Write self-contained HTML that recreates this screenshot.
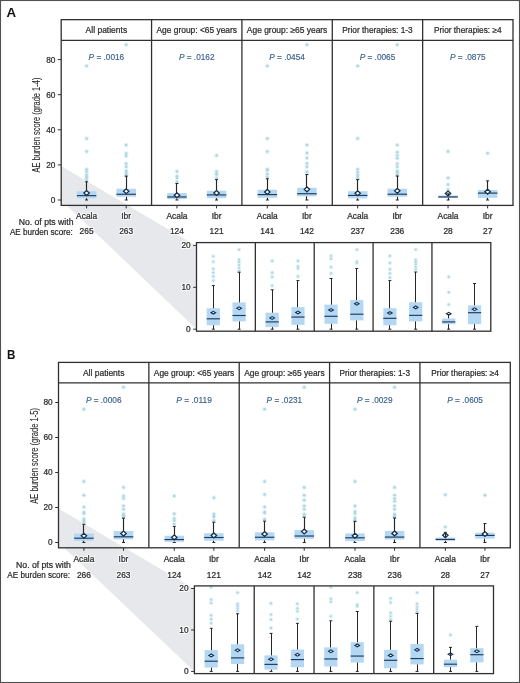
<!DOCTYPE html>
<html><head><meta charset="utf-8"><style>
html,body{margin:0;padding:0;background:#fff;width:520px;height:683px;overflow:hidden}
svg{display:block;will-change:transform}
text{font-family:"Liberation Sans", sans-serif}
</style></head><body>
<svg width="520" height="683" viewBox="0 0 520 683" font-family='"Liberation Sans", sans-serif'>
<rect width="520" height="683" fill="#fff"/>
<polygon points="61.2,165.9 196.5,245.9 196.5,329.2 66.85,205.4 61.2,205.4" fill="#e7e8ec"/><circle cx="86.6" cy="179.64" r="2.35" fill="#e0f4fa"/><circle cx="86.6" cy="177.89" r="2.35" fill="#e0f4fa"/><circle cx="86.6" cy="176.31" r="2.35" fill="#e0f4fa"/><circle cx="86.6" cy="174.73" r="2.35" fill="#e0f4fa"/><circle cx="86.6" cy="171.74" r="2.35" fill="#e0f4fa"/><circle cx="86.6" cy="169.46" r="2.35" fill="#e0f4fa"/><circle cx="86.6" cy="151.56" r="2.35" fill="#e0f4fa"/><circle cx="86.6" cy="138.57" r="2.35" fill="#e0f4fa"/><circle cx="86.6" cy="66.09" r="2.35" fill="#e0f4fa"/><circle cx="86.6" cy="179.64" r="1.25" fill="#b2d4dd"/><circle cx="86.6" cy="177.89" r="1.25" fill="#b2d4dd"/><circle cx="86.6" cy="176.31" r="1.25" fill="#b2d4dd"/><circle cx="86.6" cy="174.73" r="1.25" fill="#b2d4dd"/><circle cx="86.6" cy="171.74" r="1.25" fill="#b2d4dd"/><circle cx="86.6" cy="169.46" r="1.25" fill="#b2d4dd"/><circle cx="86.6" cy="151.56" r="1.25" fill="#b2d4dd"/><circle cx="86.6" cy="138.57" r="1.25" fill="#b2d4dd"/><circle cx="86.6" cy="66.09" r="1.25" fill="#b2d4dd"/><rect x="76.85" y="191.22" width="19.5" height="7.11" fill="#b4d7f3"/><line x1="76.85" y1="195.65" x2="96.35" y2="195.65" stroke="#1d3b5a" stroke-width="1.15"/><path d="M83.9 193.09L86.6 190.64L89.3 193.09L86.6 195.54Z" fill="#fff" stroke="#14304d" stroke-width="1.3"/><line x1="86.5" y1="181.75" x2="86.5" y2="191.22" stroke="#262626" stroke-width="1.15"/><line x1="86.5" y1="198.33" x2="86.5" y2="200" stroke="#262626" stroke-width="1.15"/><line x1="85.1" y1="181.75" x2="88.1" y2="181.75" stroke="#262626" stroke-width="1"/><line x1="85.1" y1="200" x2="88.1" y2="200" stroke="#262626" stroke-width="1"/><circle cx="126.2" cy="175.61" r="2.35" fill="#e0f4fa"/><circle cx="126.2" cy="174.38" r="2.35" fill="#e0f4fa"/><circle cx="126.2" cy="173.15" r="2.35" fill="#e0f4fa"/><circle cx="126.2" cy="171.92" r="2.35" fill="#e0f4fa"/><circle cx="126.2" cy="170.87" r="2.35" fill="#e0f4fa"/><circle cx="126.2" cy="166.66" r="2.35" fill="#e0f4fa"/><circle cx="126.2" cy="163.67" r="2.35" fill="#e0f4fa"/><circle cx="126.2" cy="155.95" r="2.35" fill="#e0f4fa"/><circle cx="126.2" cy="153.49" r="2.35" fill="#e0f4fa"/><circle cx="126.2" cy="145.07" r="2.35" fill="#e0f4fa"/><circle cx="126.2" cy="44.86" r="2.35" fill="#e0f4fa"/><circle cx="126.2" cy="175.61" r="1.25" fill="#b2d4dd"/><circle cx="126.2" cy="174.38" r="1.25" fill="#b2d4dd"/><circle cx="126.2" cy="173.15" r="1.25" fill="#b2d4dd"/><circle cx="126.2" cy="171.92" r="1.25" fill="#b2d4dd"/><circle cx="126.2" cy="170.87" r="1.25" fill="#b2d4dd"/><circle cx="126.2" cy="166.66" r="1.25" fill="#b2d4dd"/><circle cx="126.2" cy="163.67" r="1.25" fill="#b2d4dd"/><circle cx="126.2" cy="155.95" r="1.25" fill="#b2d4dd"/><circle cx="126.2" cy="153.49" r="1.25" fill="#b2d4dd"/><circle cx="126.2" cy="145.07" r="1.25" fill="#b2d4dd"/><circle cx="126.2" cy="44.86" r="1.25" fill="#b2d4dd"/><rect x="116.45" y="188.77" width="19.5" height="7.97" fill="#b4d7f3"/><line x1="116.45" y1="194.26" x2="135.95" y2="194.26" stroke="#1d3b5a" stroke-width="1.15"/><path d="M123.5 191.22L126.2 188.78L128.9 191.22L126.2 193.67Z" fill="#fff" stroke="#14304d" stroke-width="1.3"/><line x1="126.5" y1="176.13" x2="126.5" y2="188.77" stroke="#262626" stroke-width="1.15"/><line x1="126.5" y1="196.74" x2="126.5" y2="200" stroke="#262626" stroke-width="1.15"/><line x1="124.7" y1="176.13" x2="127.7" y2="176.13" stroke="#262626" stroke-width="1"/><line x1="124.7" y1="200" x2="127.7" y2="200" stroke="#262626" stroke-width="1"/><circle cx="176.96" cy="181.75" r="2.35" fill="#e0f4fa"/><circle cx="176.96" cy="178.06" r="2.35" fill="#e0f4fa"/><circle cx="176.96" cy="176.31" r="2.35" fill="#e0f4fa"/><circle cx="176.96" cy="171.39" r="2.35" fill="#e0f4fa"/><circle cx="176.96" cy="181.75" r="1.25" fill="#b2d4dd"/><circle cx="176.96" cy="178.06" r="1.25" fill="#b2d4dd"/><circle cx="176.96" cy="176.31" r="1.25" fill="#b2d4dd"/><circle cx="176.96" cy="171.39" r="1.25" fill="#b2d4dd"/><rect x="167.21" y="193.09" width="19.5" height="6.04" fill="#b4d7f3"/><line x1="167.21" y1="196.95" x2="186.71" y2="196.95" stroke="#1d3b5a" stroke-width="1.15"/><path d="M174.26 195.31L176.96 192.86L179.66 195.31L176.96 197.76Z" fill="#fff" stroke="#14304d" stroke-width="1.3"/><line x1="176.5" y1="183.5" x2="176.5" y2="193.09" stroke="#262626" stroke-width="1.15"/><line x1="176.5" y1="199.12" x2="176.5" y2="200" stroke="#262626" stroke-width="1.15"/><line x1="175.46" y1="183.5" x2="178.46" y2="183.5" stroke="#262626" stroke-width="1"/><line x1="175.46" y1="200" x2="178.46" y2="200" stroke="#262626" stroke-width="1"/><circle cx="216.56" cy="177.89" r="2.35" fill="#e0f4fa"/><circle cx="216.56" cy="174.55" r="2.35" fill="#e0f4fa"/><circle cx="216.56" cy="173.68" r="2.35" fill="#e0f4fa"/><circle cx="216.56" cy="171.39" r="2.35" fill="#e0f4fa"/><circle cx="216.56" cy="155.42" r="2.35" fill="#e0f4fa"/><circle cx="216.56" cy="177.89" r="1.25" fill="#b2d4dd"/><circle cx="216.56" cy="174.55" r="1.25" fill="#b2d4dd"/><circle cx="216.56" cy="173.68" r="1.25" fill="#b2d4dd"/><circle cx="216.56" cy="171.39" r="1.25" fill="#b2d4dd"/><circle cx="216.56" cy="155.42" r="1.25" fill="#b2d4dd"/><rect x="206.81" y="190.75" width="19.5" height="7.44" fill="#b4d7f3"/><line x1="206.81" y1="194.91" x2="226.31" y2="194.91" stroke="#1d3b5a" stroke-width="1.15"/><path d="M213.86 192.98L216.56 190.53L219.26 192.98L216.56 195.43Z" fill="#fff" stroke="#14304d" stroke-width="1.3"/><line x1="216.5" y1="179.64" x2="216.5" y2="190.75" stroke="#262626" stroke-width="1.15"/><line x1="216.5" y1="198.19" x2="216.5" y2="200" stroke="#262626" stroke-width="1.15"/><line x1="215.06" y1="179.64" x2="218.06" y2="179.64" stroke="#262626" stroke-width="1"/><line x1="215.06" y1="200" x2="218.06" y2="200" stroke="#262626" stroke-width="1"/><circle cx="267.32" cy="176.66" r="2.35" fill="#e0f4fa"/><circle cx="267.32" cy="174.03" r="2.35" fill="#e0f4fa"/><circle cx="267.32" cy="170.52" r="2.35" fill="#e0f4fa"/><circle cx="267.32" cy="169.29" r="2.35" fill="#e0f4fa"/><circle cx="267.32" cy="151.56" r="2.35" fill="#e0f4fa"/><circle cx="267.32" cy="138.57" r="2.35" fill="#e0f4fa"/><circle cx="267.32" cy="66.09" r="2.35" fill="#e0f4fa"/><circle cx="267.32" cy="176.66" r="1.25" fill="#b2d4dd"/><circle cx="267.32" cy="174.03" r="1.25" fill="#b2d4dd"/><circle cx="267.32" cy="170.52" r="1.25" fill="#b2d4dd"/><circle cx="267.32" cy="169.29" r="1.25" fill="#b2d4dd"/><circle cx="267.32" cy="151.56" r="1.25" fill="#b2d4dd"/><circle cx="267.32" cy="138.57" r="1.25" fill="#b2d4dd"/><circle cx="267.32" cy="66.09" r="1.25" fill="#b2d4dd"/><rect x="257.57" y="189.73" width="19.5" height="8" fill="#b4d7f3"/><line x1="257.57" y1="194.59" x2="277.07" y2="194.59" stroke="#1d3b5a" stroke-width="1.15"/><path d="M264.62 191.93L267.32 189.48L270.02 191.93L267.32 194.38Z" fill="#fff" stroke="#14304d" stroke-width="1.3"/><line x1="267.5" y1="178.76" x2="267.5" y2="189.73" stroke="#262626" stroke-width="1.15"/><line x1="267.5" y1="197.74" x2="267.5" y2="200" stroke="#262626" stroke-width="1.15"/><line x1="265.82" y1="178.76" x2="268.82" y2="178.76" stroke="#262626" stroke-width="1"/><line x1="265.82" y1="200" x2="268.82" y2="200" stroke="#262626" stroke-width="1"/><circle cx="306.92" cy="172.27" r="2.35" fill="#e0f4fa"/><circle cx="306.92" cy="171.74" r="2.35" fill="#e0f4fa"/><circle cx="306.92" cy="166.66" r="2.35" fill="#e0f4fa"/><circle cx="306.92" cy="163.5" r="2.35" fill="#e0f4fa"/><circle cx="306.92" cy="157.88" r="2.35" fill="#e0f4fa"/><circle cx="306.92" cy="152.97" r="2.35" fill="#e0f4fa"/><circle cx="306.92" cy="145.07" r="2.35" fill="#e0f4fa"/><circle cx="306.92" cy="44.86" r="2.35" fill="#e0f4fa"/><circle cx="306.92" cy="172.27" r="1.25" fill="#b2d4dd"/><circle cx="306.92" cy="171.74" r="1.25" fill="#b2d4dd"/><circle cx="306.92" cy="166.66" r="1.25" fill="#b2d4dd"/><circle cx="306.92" cy="163.5" r="1.25" fill="#b2d4dd"/><circle cx="306.92" cy="157.88" r="1.25" fill="#b2d4dd"/><circle cx="306.92" cy="152.97" r="1.25" fill="#b2d4dd"/><circle cx="306.92" cy="145.07" r="1.25" fill="#b2d4dd"/><circle cx="306.92" cy="44.86" r="1.25" fill="#b2d4dd"/><rect x="297.17" y="187.8" width="19.5" height="8.51" fill="#b4d7f3"/><line x1="297.17" y1="193.72" x2="316.67" y2="193.72" stroke="#1d3b5a" stroke-width="1.15"/><path d="M304.22 189.36L306.92 186.91L309.62 189.36L306.92 191.81Z" fill="#fff" stroke="#14304d" stroke-width="1.3"/><line x1="306.5" y1="174.55" x2="306.5" y2="187.8" stroke="#262626" stroke-width="1.15"/><line x1="306.5" y1="196.31" x2="306.5" y2="200" stroke="#262626" stroke-width="1.15"/><line x1="305.42" y1="174.55" x2="308.42" y2="174.55" stroke="#262626" stroke-width="1"/><line x1="305.42" y1="200" x2="308.42" y2="200" stroke="#262626" stroke-width="1"/><circle cx="357.68" cy="178.41" r="2.35" fill="#e0f4fa"/><circle cx="357.68" cy="176.66" r="2.35" fill="#e0f4fa"/><circle cx="357.68" cy="174.9" r="2.35" fill="#e0f4fa"/><circle cx="357.68" cy="172.27" r="2.35" fill="#e0f4fa"/><circle cx="357.68" cy="169.29" r="2.35" fill="#e0f4fa"/><circle cx="357.68" cy="138.57" r="2.35" fill="#e0f4fa"/><circle cx="357.68" cy="66.09" r="2.35" fill="#e0f4fa"/><circle cx="357.68" cy="178.41" r="1.25" fill="#b2d4dd"/><circle cx="357.68" cy="176.66" r="1.25" fill="#b2d4dd"/><circle cx="357.68" cy="174.9" r="1.25" fill="#b2d4dd"/><circle cx="357.68" cy="172.27" r="1.25" fill="#b2d4dd"/><circle cx="357.68" cy="169.29" r="1.25" fill="#b2d4dd"/><circle cx="357.68" cy="138.57" r="1.25" fill="#b2d4dd"/><circle cx="357.68" cy="66.09" r="1.25" fill="#b2d4dd"/><rect x="347.93" y="191.22" width="19.5" height="7.11" fill="#b4d7f3"/><line x1="347.93" y1="195.44" x2="367.43" y2="195.44" stroke="#1d3b5a" stroke-width="1.15"/><path d="M354.98 193.24L357.68 190.79L360.38 193.24L357.68 195.69Z" fill="#fff" stroke="#14304d" stroke-width="1.3"/><line x1="357.5" y1="179.64" x2="357.5" y2="191.22" stroke="#262626" stroke-width="1.15"/><line x1="357.5" y1="198.33" x2="357.5" y2="200" stroke="#262626" stroke-width="1.15"/><line x1="356.18" y1="179.64" x2="359.18" y2="179.64" stroke="#262626" stroke-width="1"/><line x1="356.18" y1="200" x2="359.18" y2="200" stroke="#262626" stroke-width="1"/><circle cx="397.28" cy="174.9" r="2.35" fill="#e0f4fa"/><circle cx="397.28" cy="173.85" r="2.35" fill="#e0f4fa"/><circle cx="397.28" cy="172.8" r="2.35" fill="#e0f4fa"/><circle cx="397.28" cy="171.92" r="2.35" fill="#e0f4fa"/><circle cx="397.28" cy="171.04" r="2.35" fill="#e0f4fa"/><circle cx="397.28" cy="166.66" r="2.35" fill="#e0f4fa"/><circle cx="397.28" cy="163.67" r="2.35" fill="#e0f4fa"/><circle cx="397.28" cy="158.23" r="2.35" fill="#e0f4fa"/><circle cx="397.28" cy="155.42" r="2.35" fill="#e0f4fa"/><circle cx="397.28" cy="152.26" r="2.35" fill="#e0f4fa"/><circle cx="397.28" cy="145.07" r="2.35" fill="#e0f4fa"/><circle cx="397.28" cy="44.86" r="2.35" fill="#e0f4fa"/><circle cx="397.28" cy="174.9" r="1.25" fill="#b2d4dd"/><circle cx="397.28" cy="173.85" r="1.25" fill="#b2d4dd"/><circle cx="397.28" cy="172.8" r="1.25" fill="#b2d4dd"/><circle cx="397.28" cy="171.92" r="1.25" fill="#b2d4dd"/><circle cx="397.28" cy="171.04" r="1.25" fill="#b2d4dd"/><circle cx="397.28" cy="166.66" r="1.25" fill="#b2d4dd"/><circle cx="397.28" cy="163.67" r="1.25" fill="#b2d4dd"/><circle cx="397.28" cy="158.23" r="1.25" fill="#b2d4dd"/><circle cx="397.28" cy="155.42" r="1.25" fill="#b2d4dd"/><circle cx="397.28" cy="152.26" r="1.25" fill="#b2d4dd"/><circle cx="397.28" cy="145.07" r="1.25" fill="#b2d4dd"/><circle cx="397.28" cy="44.86" r="1.25" fill="#b2d4dd"/><rect x="387.53" y="188.7" width="19.5" height="8.04" fill="#b4d7f3"/><line x1="387.53" y1="194.21" x2="407.03" y2="194.21" stroke="#1d3b5a" stroke-width="1.15"/><path d="M394.58 190.87L397.28 188.42L399.98 190.87L397.28 193.32Z" fill="#fff" stroke="#14304d" stroke-width="1.3"/><line x1="397.5" y1="176.04" x2="397.5" y2="188.7" stroke="#262626" stroke-width="1.15"/><line x1="397.5" y1="196.74" x2="397.5" y2="200" stroke="#262626" stroke-width="1.15"/><line x1="395.78" y1="176.04" x2="398.78" y2="176.04" stroke="#262626" stroke-width="1"/><line x1="395.78" y1="200" x2="398.78" y2="200" stroke="#262626" stroke-width="1"/><circle cx="448.04" cy="189.65" r="2.35" fill="#e0f4fa"/><circle cx="448.04" cy="184.56" r="2.35" fill="#e0f4fa"/><circle cx="448.04" cy="178.06" r="2.35" fill="#e0f4fa"/><circle cx="448.04" cy="151.56" r="2.35" fill="#e0f4fa"/><circle cx="448.04" cy="189.65" r="1.25" fill="#b2d4dd"/><circle cx="448.04" cy="184.56" r="1.25" fill="#b2d4dd"/><circle cx="448.04" cy="178.06" r="1.25" fill="#b2d4dd"/><circle cx="448.04" cy="151.56" r="1.25" fill="#b2d4dd"/><rect x="438.29" y="195.47" width="19.5" height="2.42" fill="#b4d7f3"/><line x1="438.29" y1="196.95" x2="457.79" y2="196.95" stroke="#1d3b5a" stroke-width="1.15"/><path d="M445.34 193.54L448.04 191.09L450.74 193.54L448.04 195.99Z" fill="#fff" stroke="#14304d" stroke-width="1.3"/><line x1="448.5" y1="193.86" x2="448.5" y2="195.47" stroke="#262626" stroke-width="1.15"/><line x1="448.5" y1="197.89" x2="448.5" y2="200" stroke="#262626" stroke-width="1.15"/><line x1="446.54" y1="193.86" x2="449.54" y2="193.86" stroke="#262626" stroke-width="1"/><line x1="446.54" y1="200" x2="449.54" y2="200" stroke="#262626" stroke-width="1"/><circle cx="487.64" cy="153.32" r="2.35" fill="#e0f4fa"/><circle cx="487.64" cy="153.32" r="1.25" fill="#b2d4dd"/><rect x="477.89" y="190.03" width="19.5" height="7.86" fill="#b4d7f3"/><line x1="477.89" y1="193.09" x2="497.39" y2="193.09" stroke="#1d3b5a" stroke-width="1.15"/><path d="M484.94 191.66L487.64 189.21L490.34 191.66L487.64 194.11Z" fill="#fff" stroke="#14304d" stroke-width="1.3"/><line x1="487.5" y1="180.87" x2="487.5" y2="190.03" stroke="#262626" stroke-width="1.15"/><line x1="487.5" y1="197.89" x2="487.5" y2="200" stroke="#262626" stroke-width="1.15"/><line x1="486.14" y1="180.87" x2="489.14" y2="180.87" stroke="#262626" stroke-width="1"/><line x1="486.14" y1="200" x2="489.14" y2="200" stroke="#262626" stroke-width="1"/><rect x="196.5" y="242.6" width="294.3" height="88.6" fill="#fff"/><circle cx="213.3" cy="280.6" r="2.2" fill="#e0f4fa"/><circle cx="213.3" cy="276.41" r="2.2" fill="#e0f4fa"/><circle cx="213.3" cy="272.63" r="2.2" fill="#e0f4fa"/><circle cx="213.3" cy="268.86" r="2.2" fill="#e0f4fa"/><circle cx="213.3" cy="261.74" r="2.2" fill="#e0f4fa"/><circle cx="213.3" cy="256.29" r="2.2" fill="#e0f4fa"/><circle cx="213.3" cy="280.6" r="1.1" fill="#b2d4dd"/><circle cx="213.3" cy="276.41" r="1.1" fill="#b2d4dd"/><circle cx="213.3" cy="272.63" r="1.1" fill="#b2d4dd"/><circle cx="213.3" cy="268.86" r="1.1" fill="#b2d4dd"/><circle cx="213.3" cy="261.74" r="1.1" fill="#b2d4dd"/><circle cx="213.3" cy="256.29" r="1.1" fill="#b2d4dd"/><rect x="206.7" y="308.25" width="13.2" height="16.97" fill="#b4d7f3"/><line x1="206.7" y1="318.81" x2="219.9" y2="318.81" stroke="#1d3b5a" stroke-width="1.15"/><path d="M211 312.69L213.3 311.29L215.6 312.69L213.3 314.09Z" fill="#fff" stroke="#14304d" stroke-width="1.1"/><line x1="213.5" y1="285.62" x2="213.5" y2="308.25" stroke="#262626" stroke-width="1.0"/><line x1="213.5" y1="325.22" x2="213.5" y2="329.2" stroke="#262626" stroke-width="1.0"/><line x1="211.8" y1="285.62" x2="214.8" y2="285.62" stroke="#262626" stroke-width="1"/><line x1="211.8" y1="329.2" x2="214.8" y2="329.2" stroke="#262626" stroke-width="1"/><circle cx="239.1" cy="270.96" r="2.2" fill="#e0f4fa"/><circle cx="239.1" cy="268.03" r="2.2" fill="#e0f4fa"/><circle cx="239.1" cy="265.09" r="2.2" fill="#e0f4fa"/><circle cx="239.1" cy="262.16" r="2.2" fill="#e0f4fa"/><circle cx="239.1" cy="259.65" r="2.2" fill="#e0f4fa"/><circle cx="239.1" cy="249.59" r="2.2" fill="#e0f4fa"/><circle cx="239.1" cy="270.96" r="1.1" fill="#b2d4dd"/><circle cx="239.1" cy="268.03" r="1.1" fill="#b2d4dd"/><circle cx="239.1" cy="265.09" r="1.1" fill="#b2d4dd"/><circle cx="239.1" cy="262.16" r="1.1" fill="#b2d4dd"/><circle cx="239.1" cy="259.65" r="1.1" fill="#b2d4dd"/><circle cx="239.1" cy="249.59" r="1.1" fill="#b2d4dd"/><rect x="232.5" y="302.38" width="13.2" height="19.02" fill="#b4d7f3"/><line x1="232.5" y1="315.5" x2="245.7" y2="315.5" stroke="#1d3b5a" stroke-width="1.15"/><path d="M236.8 308.25L239.1 306.85L241.4 308.25L239.1 309.65Z" fill="#fff" stroke="#14304d" stroke-width="1.1"/><line x1="239.5" y1="272.22" x2="239.5" y2="302.38" stroke="#262626" stroke-width="1.0"/><line x1="239.5" y1="321.41" x2="239.5" y2="329.2" stroke="#262626" stroke-width="1.0"/><line x1="237.6" y1="272.22" x2="240.6" y2="272.22" stroke="#262626" stroke-width="1"/><line x1="237.6" y1="329.2" x2="240.6" y2="329.2" stroke="#262626" stroke-width="1"/><circle cx="272.16" cy="285.62" r="2.2" fill="#e0f4fa"/><circle cx="272.16" cy="276.82" r="2.2" fill="#e0f4fa"/><circle cx="272.16" cy="272.63" r="2.2" fill="#e0f4fa"/><circle cx="272.16" cy="260.9" r="2.2" fill="#e0f4fa"/><circle cx="272.16" cy="285.62" r="1.1" fill="#b2d4dd"/><circle cx="272.16" cy="276.82" r="1.1" fill="#b2d4dd"/><circle cx="272.16" cy="272.63" r="1.1" fill="#b2d4dd"/><circle cx="272.16" cy="260.9" r="1.1" fill="#b2d4dd"/><rect x="265.56" y="312.69" width="13.2" height="14.41" fill="#b4d7f3"/><line x1="265.56" y1="321.91" x2="278.76" y2="321.91" stroke="#1d3b5a" stroke-width="1.15"/><path d="M269.86 318.01L272.16 316.61L274.46 318.01L272.16 319.41Z" fill="#fff" stroke="#14304d" stroke-width="1.1"/><line x1="272.5" y1="289.81" x2="272.5" y2="312.69" stroke="#262626" stroke-width="1.0"/><line x1="272.5" y1="327.1" x2="272.5" y2="329.2" stroke="#262626" stroke-width="1.0"/><line x1="270.66" y1="289.81" x2="273.66" y2="289.81" stroke="#262626" stroke-width="1"/><line x1="270.66" y1="329.2" x2="273.66" y2="329.2" stroke="#262626" stroke-width="1"/><circle cx="297.96" cy="276.41" r="2.2" fill="#e0f4fa"/><circle cx="297.96" cy="268.44" r="2.2" fill="#e0f4fa"/><circle cx="297.96" cy="266.35" r="2.2" fill="#e0f4fa"/><circle cx="297.96" cy="260.9" r="2.2" fill="#e0f4fa"/><circle cx="297.96" cy="276.41" r="1.1" fill="#b2d4dd"/><circle cx="297.96" cy="268.44" r="1.1" fill="#b2d4dd"/><circle cx="297.96" cy="266.35" r="1.1" fill="#b2d4dd"/><circle cx="297.96" cy="260.9" r="1.1" fill="#b2d4dd"/><rect x="291.36" y="307.12" width="13.2" height="17.77" fill="#b4d7f3"/><line x1="291.36" y1="317.05" x2="304.56" y2="317.05" stroke="#1d3b5a" stroke-width="1.15"/><path d="M295.66 312.44L297.96 311.04L300.26 312.44L297.96 313.84Z" fill="#fff" stroke="#14304d" stroke-width="1.1"/><line x1="297.5" y1="280.6" x2="297.5" y2="307.12" stroke="#262626" stroke-width="1.0"/><line x1="297.5" y1="324.88" x2="297.5" y2="329.2" stroke="#262626" stroke-width="1.0"/><line x1="296.46" y1="280.6" x2="299.46" y2="280.6" stroke="#262626" stroke-width="1"/><line x1="296.46" y1="329.2" x2="299.46" y2="329.2" stroke="#262626" stroke-width="1"/><circle cx="331.02" cy="273.47" r="2.2" fill="#e0f4fa"/><circle cx="331.02" cy="267.19" r="2.2" fill="#e0f4fa"/><circle cx="331.02" cy="258.81" r="2.2" fill="#e0f4fa"/><circle cx="331.02" cy="255.88" r="2.2" fill="#e0f4fa"/><circle cx="331.02" cy="273.47" r="1.1" fill="#b2d4dd"/><circle cx="331.02" cy="267.19" r="1.1" fill="#b2d4dd"/><circle cx="331.02" cy="258.81" r="1.1" fill="#b2d4dd"/><circle cx="331.02" cy="255.88" r="1.1" fill="#b2d4dd"/><rect x="324.42" y="304.69" width="13.2" height="19.11" fill="#b4d7f3"/><line x1="324.42" y1="316.29" x2="337.62" y2="316.29" stroke="#1d3b5a" stroke-width="1.15"/><path d="M328.72 309.93L331.02 308.53L333.32 309.93L331.02 311.33Z" fill="#fff" stroke="#14304d" stroke-width="1.1"/><line x1="331.5" y1="278.5" x2="331.5" y2="304.69" stroke="#262626" stroke-width="1.0"/><line x1="331.5" y1="323.79" x2="331.5" y2="329.2" stroke="#262626" stroke-width="1.0"/><line x1="329.52" y1="278.5" x2="332.52" y2="278.5" stroke="#262626" stroke-width="1"/><line x1="329.52" y1="329.2" x2="332.52" y2="329.2" stroke="#262626" stroke-width="1"/><circle cx="356.82" cy="263" r="2.2" fill="#e0f4fa"/><circle cx="356.82" cy="261.74" r="2.2" fill="#e0f4fa"/><circle cx="356.82" cy="249.59" r="2.2" fill="#e0f4fa"/><circle cx="356.82" cy="263" r="1.1" fill="#b2d4dd"/><circle cx="356.82" cy="261.74" r="1.1" fill="#b2d4dd"/><circle cx="356.82" cy="249.59" r="1.1" fill="#b2d4dd"/><rect x="350.22" y="300.08" width="13.2" height="20.32" fill="#b4d7f3"/><line x1="350.22" y1="314.2" x2="363.42" y2="314.2" stroke="#1d3b5a" stroke-width="1.15"/><path d="M354.52 303.81L356.82 302.41L359.12 303.81L356.82 305.21Z" fill="#fff" stroke="#14304d" stroke-width="1.1"/><line x1="356.5" y1="268.44" x2="356.5" y2="300.08" stroke="#262626" stroke-width="1.0"/><line x1="356.5" y1="320.4" x2="356.5" y2="329.2" stroke="#262626" stroke-width="1.0"/><line x1="355.32" y1="268.44" x2="358.32" y2="268.44" stroke="#262626" stroke-width="1"/><line x1="355.32" y1="329.2" x2="358.32" y2="329.2" stroke="#262626" stroke-width="1"/><circle cx="389.88" cy="277.66" r="2.2" fill="#e0f4fa"/><circle cx="389.88" cy="273.47" r="2.2" fill="#e0f4fa"/><circle cx="389.88" cy="269.28" r="2.2" fill="#e0f4fa"/><circle cx="389.88" cy="263" r="2.2" fill="#e0f4fa"/><circle cx="389.88" cy="255.88" r="2.2" fill="#e0f4fa"/><circle cx="389.88" cy="277.66" r="1.1" fill="#b2d4dd"/><circle cx="389.88" cy="273.47" r="1.1" fill="#b2d4dd"/><circle cx="389.88" cy="269.28" r="1.1" fill="#b2d4dd"/><circle cx="389.88" cy="263" r="1.1" fill="#b2d4dd"/><circle cx="389.88" cy="255.88" r="1.1" fill="#b2d4dd"/><rect x="383.28" y="308.25" width="13.2" height="16.97" fill="#b4d7f3"/><line x1="383.28" y1="318.31" x2="396.48" y2="318.31" stroke="#1d3b5a" stroke-width="1.15"/><path d="M387.58 313.07L389.88 311.67L392.18 313.07L389.88 314.47Z" fill="#fff" stroke="#14304d" stroke-width="1.1"/><line x1="389.5" y1="280.6" x2="389.5" y2="308.25" stroke="#262626" stroke-width="1.0"/><line x1="389.5" y1="325.22" x2="389.5" y2="329.2" stroke="#262626" stroke-width="1.0"/><line x1="388.38" y1="280.6" x2="391.38" y2="280.6" stroke="#262626" stroke-width="1"/><line x1="388.38" y1="329.2" x2="391.38" y2="329.2" stroke="#262626" stroke-width="1"/><circle cx="415.68" cy="269.28" r="2.2" fill="#e0f4fa"/><circle cx="415.68" cy="266.77" r="2.2" fill="#e0f4fa"/><circle cx="415.68" cy="264.25" r="2.2" fill="#e0f4fa"/><circle cx="415.68" cy="262.16" r="2.2" fill="#e0f4fa"/><circle cx="415.68" cy="260.06" r="2.2" fill="#e0f4fa"/><circle cx="415.68" cy="249.59" r="2.2" fill="#e0f4fa"/><circle cx="415.68" cy="269.28" r="1.1" fill="#b2d4dd"/><circle cx="415.68" cy="266.77" r="1.1" fill="#b2d4dd"/><circle cx="415.68" cy="264.25" r="1.1" fill="#b2d4dd"/><circle cx="415.68" cy="262.16" r="1.1" fill="#b2d4dd"/><circle cx="415.68" cy="260.06" r="1.1" fill="#b2d4dd"/><circle cx="415.68" cy="249.59" r="1.1" fill="#b2d4dd"/><rect x="409.08" y="302.22" width="13.2" height="19.19" fill="#b4d7f3"/><line x1="409.08" y1="315.37" x2="422.28" y2="315.37" stroke="#1d3b5a" stroke-width="1.15"/><path d="M413.38 307.41L415.68 306.01L417.98 307.41L415.68 308.81Z" fill="#fff" stroke="#14304d" stroke-width="1.1"/><line x1="415.5" y1="272.01" x2="415.5" y2="302.22" stroke="#262626" stroke-width="1.0"/><line x1="415.5" y1="321.41" x2="415.5" y2="329.2" stroke="#262626" stroke-width="1.0"/><line x1="414.18" y1="272.01" x2="417.18" y2="272.01" stroke="#262626" stroke-width="1"/><line x1="414.18" y1="329.2" x2="417.18" y2="329.2" stroke="#262626" stroke-width="1"/><circle cx="448.74" cy="304.48" r="2.2" fill="#e0f4fa"/><circle cx="448.74" cy="292.33" r="2.2" fill="#e0f4fa"/><circle cx="448.74" cy="276.82" r="2.2" fill="#e0f4fa"/><circle cx="448.74" cy="304.48" r="1.1" fill="#b2d4dd"/><circle cx="448.74" cy="292.33" r="1.1" fill="#b2d4dd"/><circle cx="448.74" cy="276.82" r="1.1" fill="#b2d4dd"/><rect x="442.14" y="318.39" width="13.2" height="5.78" fill="#b4d7f3"/><line x1="442.14" y1="321.91" x2="455.34" y2="321.91" stroke="#1d3b5a" stroke-width="1.15"/><path d="M446.44 313.78L448.74 312.38L451.04 313.78L448.74 315.18Z" fill="#fff" stroke="#14304d" stroke-width="1.1"/><line x1="448.5" y1="314.53" x2="448.5" y2="318.39" stroke="#262626" stroke-width="1.0"/><line x1="448.5" y1="324.17" x2="448.5" y2="329.2" stroke="#262626" stroke-width="1.0"/><line x1="447.24" y1="314.53" x2="450.24" y2="314.53" stroke="#262626" stroke-width="1"/><line x1="447.24" y1="329.2" x2="450.24" y2="329.2" stroke="#262626" stroke-width="1"/><rect x="467.94" y="305.4" width="13.2" height="18.77" fill="#b4d7f3"/><line x1="467.94" y1="312.69" x2="481.14" y2="312.69" stroke="#1d3b5a" stroke-width="1.15"/><path d="M472.24 309.3L474.54 307.9L476.84 309.3L474.54 310.7Z" fill="#fff" stroke="#14304d" stroke-width="1.1"/><line x1="474.5" y1="283.53" x2="474.5" y2="305.4" stroke="#262626" stroke-width="1.0"/><line x1="474.5" y1="324.17" x2="474.5" y2="329.2" stroke="#262626" stroke-width="1.0"/><line x1="473.04" y1="283.53" x2="476.04" y2="283.53" stroke="#262626" stroke-width="1"/><line x1="473.04" y1="329.2" x2="476.04" y2="329.2" stroke="#262626" stroke-width="1"/><rect x="61.2" y="19.65" width="451.8" height="185.75" fill="none" stroke="#303030" stroke-width="1.3"/><line x1="61.2" y1="40.45" x2="513" y2="40.45" stroke="#303030" stroke-width="1.3"/><line x1="151.56" y1="19.65" x2="151.56" y2="205.4" stroke="#303030" stroke-width="1.3"/><line x1="241.92" y1="19.65" x2="241.92" y2="205.4" stroke="#303030" stroke-width="1.3"/><line x1="332.28" y1="19.65" x2="332.28" y2="205.4" stroke="#303030" stroke-width="1.3"/><line x1="422.64" y1="19.65" x2="422.64" y2="205.4" stroke="#303030" stroke-width="1.3"/><line x1="57.9" y1="200" x2="61.2" y2="200" stroke="#303030" stroke-width="1"/><text x="55.4" y="202.9" font-size="8.3" fill="#2a2a2a" stroke="#2a2a2a" stroke-width="0.22" text-anchor="end">0</text><line x1="57.9" y1="164.9" x2="61.2" y2="164.9" stroke="#303030" stroke-width="1"/><text x="55.4" y="167.8" font-size="8.3" fill="#2a2a2a" stroke="#2a2a2a" stroke-width="0.22" text-anchor="end">20</text><line x1="57.9" y1="129.8" x2="61.2" y2="129.8" stroke="#303030" stroke-width="1"/><text x="55.4" y="132.7" font-size="8.3" fill="#2a2a2a" stroke="#2a2a2a" stroke-width="0.22" text-anchor="end">40</text><line x1="57.9" y1="94.7" x2="61.2" y2="94.7" stroke="#303030" stroke-width="1"/><text x="55.4" y="97.6" font-size="8.3" fill="#2a2a2a" stroke="#2a2a2a" stroke-width="0.22" text-anchor="end">60</text><line x1="57.9" y1="59.6" x2="61.2" y2="59.6" stroke="#303030" stroke-width="1"/><text x="55.4" y="62.5" font-size="8.3" fill="#2a2a2a" stroke="#2a2a2a" stroke-width="0.22" text-anchor="end">80</text><line x1="86.6" y1="205.4" x2="86.6" y2="208.4" stroke="#303030" stroke-width="1"/><text x="86.6" y="218.5" font-size="8.4" fill="#fbfbfc" text-anchor="middle" stroke="#fbfbfc" stroke-width="2.2" stroke-linejoin="round" paint-order="stroke">Acala</text><text x="86.6" y="218.5" font-size="8.4" fill="#2a2a2a" stroke="#2a2a2a" stroke-width="0.22" text-anchor="middle">Acala</text><text x="86.6" y="234.2" font-size="8.4" fill="#fbfbfc" text-anchor="middle" stroke="#fbfbfc" stroke-width="2.2" stroke-linejoin="round" paint-order="stroke">265</text><text x="86.6" y="234.2" font-size="8.4" fill="#2a2a2a" stroke="#2a2a2a" stroke-width="0.22" text-anchor="middle">265</text><line x1="126.2" y1="205.4" x2="126.2" y2="208.4" stroke="#303030" stroke-width="1"/><text x="126.2" y="218.5" font-size="8.4" fill="#fbfbfc" text-anchor="middle" stroke="#fbfbfc" stroke-width="2.2" stroke-linejoin="round" paint-order="stroke">Ibr</text><text x="126.2" y="218.5" font-size="8.4" fill="#2a2a2a" stroke="#2a2a2a" stroke-width="0.22" text-anchor="middle">Ibr</text><text x="126.2" y="234.2" font-size="8.4" fill="#fbfbfc" text-anchor="middle" stroke="#fbfbfc" stroke-width="2.2" stroke-linejoin="round" paint-order="stroke">263</text><text x="126.2" y="234.2" font-size="8.4" fill="#2a2a2a" stroke="#2a2a2a" stroke-width="0.22" text-anchor="middle">263</text><text x="106.38" y="32.8" font-size="8.4" fill="#2a2a2a" stroke="#2a2a2a" stroke-width="0.22" text-anchor="middle" textLength="41.5" lengthAdjust="spacingAndGlyphs">All patients</text><text x="106.38" y="59.8" font-size="8.3" fill="#3b5f8c" stroke="#3b5f8c" stroke-width="0.15" text-anchor="middle" textLength="35.6" lengthAdjust="spacingAndGlyphs"><tspan font-style="italic">P</tspan> = .0016</text><line x1="176.96" y1="205.4" x2="176.96" y2="208.4" stroke="#303030" stroke-width="1"/><text x="176.96" y="218.5" font-size="8.4" fill="#fbfbfc" text-anchor="middle" stroke="#fbfbfc" stroke-width="2.2" stroke-linejoin="round" paint-order="stroke">Acala</text><text x="176.96" y="218.5" font-size="8.4" fill="#2a2a2a" stroke="#2a2a2a" stroke-width="0.22" text-anchor="middle">Acala</text><text x="176.96" y="234.2" font-size="8.4" fill="#fbfbfc" text-anchor="middle" stroke="#fbfbfc" stroke-width="2.2" stroke-linejoin="round" paint-order="stroke">124</text><text x="176.96" y="234.2" font-size="8.4" fill="#2a2a2a" stroke="#2a2a2a" stroke-width="0.22" text-anchor="middle">124</text><line x1="216.56" y1="205.4" x2="216.56" y2="208.4" stroke="#303030" stroke-width="1"/><text x="216.56" y="218.5" font-size="8.4" fill="#fbfbfc" text-anchor="middle" stroke="#fbfbfc" stroke-width="2.2" stroke-linejoin="round" paint-order="stroke">Ibr</text><text x="216.56" y="218.5" font-size="8.4" fill="#2a2a2a" stroke="#2a2a2a" stroke-width="0.22" text-anchor="middle">Ibr</text><text x="216.56" y="234.2" font-size="8.4" fill="#fbfbfc" text-anchor="middle" stroke="#fbfbfc" stroke-width="2.2" stroke-linejoin="round" paint-order="stroke">121</text><text x="216.56" y="234.2" font-size="8.4" fill="#2a2a2a" stroke="#2a2a2a" stroke-width="0.22" text-anchor="middle">121</text><text x="196.74" y="32.8" font-size="8.4" fill="#2a2a2a" stroke="#2a2a2a" stroke-width="0.22" text-anchor="middle" textLength="80.5" lengthAdjust="spacingAndGlyphs">Age group: <65 years</text><text x="196.74" y="59.8" font-size="8.3" fill="#3b5f8c" stroke="#3b5f8c" stroke-width="0.15" text-anchor="middle" textLength="35.6" lengthAdjust="spacingAndGlyphs"><tspan font-style="italic">P</tspan> = .0162</text><line x1="267.32" y1="205.4" x2="267.32" y2="208.4" stroke="#303030" stroke-width="1"/><text x="267.32" y="218.5" font-size="8.4" fill="#fbfbfc" text-anchor="middle" stroke="#fbfbfc" stroke-width="2.2" stroke-linejoin="round" paint-order="stroke">Acala</text><text x="267.32" y="218.5" font-size="8.4" fill="#2a2a2a" stroke="#2a2a2a" stroke-width="0.22" text-anchor="middle">Acala</text><text x="267.32" y="234.2" font-size="8.4" fill="#fbfbfc" text-anchor="middle" stroke="#fbfbfc" stroke-width="2.2" stroke-linejoin="round" paint-order="stroke">141</text><text x="267.32" y="234.2" font-size="8.4" fill="#2a2a2a" stroke="#2a2a2a" stroke-width="0.22" text-anchor="middle">141</text><line x1="306.92" y1="205.4" x2="306.92" y2="208.4" stroke="#303030" stroke-width="1"/><text x="306.92" y="218.5" font-size="8.4" fill="#fbfbfc" text-anchor="middle" stroke="#fbfbfc" stroke-width="2.2" stroke-linejoin="round" paint-order="stroke">Ibr</text><text x="306.92" y="218.5" font-size="8.4" fill="#2a2a2a" stroke="#2a2a2a" stroke-width="0.22" text-anchor="middle">Ibr</text><text x="306.92" y="234.2" font-size="8.4" fill="#fbfbfc" text-anchor="middle" stroke="#fbfbfc" stroke-width="2.2" stroke-linejoin="round" paint-order="stroke">142</text><text x="306.92" y="234.2" font-size="8.4" fill="#2a2a2a" stroke="#2a2a2a" stroke-width="0.22" text-anchor="middle">142</text><text x="287.1" y="32.8" font-size="8.4" fill="#2a2a2a" stroke="#2a2a2a" stroke-width="0.22" text-anchor="middle" textLength="80.5" lengthAdjust="spacingAndGlyphs">Age group: ≥65 years</text><text x="287.1" y="59.8" font-size="8.3" fill="#3b5f8c" stroke="#3b5f8c" stroke-width="0.15" text-anchor="middle" textLength="35.6" lengthAdjust="spacingAndGlyphs"><tspan font-style="italic">P</tspan> = .0454</text><line x1="357.68" y1="205.4" x2="357.68" y2="208.4" stroke="#303030" stroke-width="1"/><text x="357.68" y="218.5" font-size="8.4" fill="#fbfbfc" text-anchor="middle" stroke="#fbfbfc" stroke-width="2.2" stroke-linejoin="round" paint-order="stroke">Acala</text><text x="357.68" y="218.5" font-size="8.4" fill="#2a2a2a" stroke="#2a2a2a" stroke-width="0.22" text-anchor="middle">Acala</text><text x="357.68" y="234.2" font-size="8.4" fill="#fbfbfc" text-anchor="middle" stroke="#fbfbfc" stroke-width="2.2" stroke-linejoin="round" paint-order="stroke">237</text><text x="357.68" y="234.2" font-size="8.4" fill="#2a2a2a" stroke="#2a2a2a" stroke-width="0.22" text-anchor="middle">237</text><line x1="397.28" y1="205.4" x2="397.28" y2="208.4" stroke="#303030" stroke-width="1"/><text x="397.28" y="218.5" font-size="8.4" fill="#fbfbfc" text-anchor="middle" stroke="#fbfbfc" stroke-width="2.2" stroke-linejoin="round" paint-order="stroke">Ibr</text><text x="397.28" y="218.5" font-size="8.4" fill="#2a2a2a" stroke="#2a2a2a" stroke-width="0.22" text-anchor="middle">Ibr</text><text x="397.28" y="234.2" font-size="8.4" fill="#fbfbfc" text-anchor="middle" stroke="#fbfbfc" stroke-width="2.2" stroke-linejoin="round" paint-order="stroke">236</text><text x="397.28" y="234.2" font-size="8.4" fill="#2a2a2a" stroke="#2a2a2a" stroke-width="0.22" text-anchor="middle">236</text><text x="377.46" y="32.8" font-size="8.4" fill="#2a2a2a" stroke="#2a2a2a" stroke-width="0.22" text-anchor="middle" textLength="70.5" lengthAdjust="spacingAndGlyphs">Prior therapies: 1-3</text><text x="377.46" y="59.8" font-size="8.3" fill="#3b5f8c" stroke="#3b5f8c" stroke-width="0.15" text-anchor="middle" textLength="35.6" lengthAdjust="spacingAndGlyphs"><tspan font-style="italic">P</tspan> = .0065</text><line x1="448.04" y1="205.4" x2="448.04" y2="208.4" stroke="#303030" stroke-width="1"/><text x="448.04" y="218.5" font-size="8.4" fill="#fbfbfc" text-anchor="middle" stroke="#fbfbfc" stroke-width="2.2" stroke-linejoin="round" paint-order="stroke">Acala</text><text x="448.04" y="218.5" font-size="8.4" fill="#2a2a2a" stroke="#2a2a2a" stroke-width="0.22" text-anchor="middle">Acala</text><text x="448.04" y="234.2" font-size="8.4" fill="#fbfbfc" text-anchor="middle" stroke="#fbfbfc" stroke-width="2.2" stroke-linejoin="round" paint-order="stroke">28</text><text x="448.04" y="234.2" font-size="8.4" fill="#2a2a2a" stroke="#2a2a2a" stroke-width="0.22" text-anchor="middle">28</text><line x1="487.64" y1="205.4" x2="487.64" y2="208.4" stroke="#303030" stroke-width="1"/><text x="487.64" y="218.5" font-size="8.4" fill="#fbfbfc" text-anchor="middle" stroke="#fbfbfc" stroke-width="2.2" stroke-linejoin="round" paint-order="stroke">Ibr</text><text x="487.64" y="218.5" font-size="8.4" fill="#2a2a2a" stroke="#2a2a2a" stroke-width="0.22" text-anchor="middle">Ibr</text><text x="487.64" y="234.2" font-size="8.4" fill="#fbfbfc" text-anchor="middle" stroke="#fbfbfc" stroke-width="2.2" stroke-linejoin="round" paint-order="stroke">27</text><text x="487.64" y="234.2" font-size="8.4" fill="#2a2a2a" stroke="#2a2a2a" stroke-width="0.22" text-anchor="middle">27</text><text x="467.82" y="32.8" font-size="8.4" fill="#2a2a2a" stroke="#2a2a2a" stroke-width="0.22" text-anchor="middle" textLength="67.5" lengthAdjust="spacingAndGlyphs">Prior therapies: ≥4</text><text x="467.82" y="59.8" font-size="8.3" fill="#3b5f8c" stroke="#3b5f8c" stroke-width="0.15" text-anchor="middle" textLength="35.6" lengthAdjust="spacingAndGlyphs"><tspan font-style="italic">P</tspan> = .0875</text><text x="73.5" y="225.2" font-size="8.4" fill="#2a2a2a" stroke="#2a2a2a" stroke-width="0.22" text-anchor="end" textLength="54.8" lengthAdjust="spacingAndGlyphs">No. of pts with</text><text x="72.7" y="234.8" font-size="8.4" fill="#2a2a2a" stroke="#2a2a2a" stroke-width="0.22" text-anchor="end" textLength="62.8" lengthAdjust="spacingAndGlyphs">AE burden score:</text><text transform="translate(40.2,172.6) rotate(-90)" font-size="10" fill="#2a2a2a" stroke="#2a2a2a" stroke-width="0.1" textLength="95" lengthAdjust="spacingAndGlyphs">AE burden score (grade 1-4)</text><rect x="196.5" y="242.6" width="294.3" height="88.6" fill="none" stroke="#303030" stroke-width="1.3"/><line x1="255.36" y1="242.6" x2="255.36" y2="331.2" stroke="#303030" stroke-width="1.3"/><line x1="314.22" y1="242.6" x2="314.22" y2="331.2" stroke="#303030" stroke-width="1.3"/><line x1="373.08" y1="242.6" x2="373.08" y2="331.2" stroke="#303030" stroke-width="1.3"/><line x1="431.94" y1="242.6" x2="431.94" y2="331.2" stroke="#303030" stroke-width="1.3"/><line x1="193.2" y1="329.2" x2="196.5" y2="329.2" stroke="#303030" stroke-width="1"/><text x="190.7" y="332.1" font-size="8.3" fill="#fbfbfc" text-anchor="end" stroke="#fbfbfc" stroke-width="2.2" stroke-linejoin="round" paint-order="stroke">0</text><text x="190.7" y="332.1" font-size="8.3" fill="#2a2a2a" stroke="#2a2a2a" stroke-width="0.22" text-anchor="end">0</text><line x1="193.2" y1="287.3" x2="196.5" y2="287.3" stroke="#303030" stroke-width="1"/><text x="190.7" y="290.2" font-size="8.3" fill="#fbfbfc" text-anchor="end" stroke="#fbfbfc" stroke-width="2.2" stroke-linejoin="round" paint-order="stroke">10</text><text x="190.7" y="290.2" font-size="8.3" fill="#2a2a2a" stroke="#2a2a2a" stroke-width="0.22" text-anchor="end">10</text><line x1="193.2" y1="245.4" x2="196.5" y2="245.4" stroke="#303030" stroke-width="1"/><text x="190.7" y="248.3" font-size="8.3" fill="#fbfbfc" text-anchor="end" stroke="#fbfbfc" stroke-width="2.2" stroke-linejoin="round" paint-order="stroke">20</text><text x="190.7" y="248.3" font-size="8.3" fill="#2a2a2a" stroke="#2a2a2a" stroke-width="0.22" text-anchor="end">20</text><text x="6.4" y="16.5" font-size="12.4" font-weight="bold" fill="#111" textLength="9.6" lengthAdjust="spacingAndGlyphs">A</text>
<polygon points="58.5,508.5 194.4,589 194.4,671.4 64.09,547.8 58.5,547.8" fill="#e7e8ec"/><circle cx="83.9" cy="522.2" r="2.35" fill="#e0f4fa"/><circle cx="83.9" cy="520.45" r="2.35" fill="#e0f4fa"/><circle cx="83.9" cy="518.88" r="2.35" fill="#e0f4fa"/><circle cx="83.9" cy="513.62" r="2.35" fill="#e0f4fa"/><circle cx="83.9" cy="512.23" r="2.35" fill="#e0f4fa"/><circle cx="83.9" cy="506.98" r="2.35" fill="#e0f4fa"/><circle cx="83.9" cy="495.25" r="2.35" fill="#e0f4fa"/><circle cx="83.9" cy="481.43" r="2.35" fill="#e0f4fa"/><circle cx="83.9" cy="409.15" r="2.35" fill="#e0f4fa"/><circle cx="83.9" cy="522.2" r="1.25" fill="#b2d4dd"/><circle cx="83.9" cy="520.45" r="1.25" fill="#b2d4dd"/><circle cx="83.9" cy="518.88" r="1.25" fill="#b2d4dd"/><circle cx="83.9" cy="513.62" r="1.25" fill="#b2d4dd"/><circle cx="83.9" cy="512.23" r="1.25" fill="#b2d4dd"/><circle cx="83.9" cy="506.98" r="1.25" fill="#b2d4dd"/><circle cx="83.9" cy="495.25" r="1.25" fill="#b2d4dd"/><circle cx="83.9" cy="481.43" r="1.25" fill="#b2d4dd"/><circle cx="83.9" cy="409.15" r="1.25" fill="#b2d4dd"/><rect x="74.15" y="533.5" width="19.5" height="7.38" fill="#b4d7f3"/><line x1="74.15" y1="538.2" x2="93.65" y2="538.2" stroke="#1d3b5a" stroke-width="1.15"/><path d="M81.2 535.75L83.9 533.29L86.6 535.75L83.9 538.2Z" fill="#fff" stroke="#14304d" stroke-width="1.3"/><line x1="83.5" y1="524.3" x2="83.5" y2="533.5" stroke="#262626" stroke-width="1.15"/><line x1="83.5" y1="540.89" x2="83.5" y2="542.5" stroke="#262626" stroke-width="1.15"/><line x1="82.4" y1="524.3" x2="85.4" y2="524.3" stroke="#262626" stroke-width="1"/><line x1="82.4" y1="542.5" x2="85.4" y2="542.5" stroke="#262626" stroke-width="1"/><circle cx="123.5" cy="516.95" r="2.35" fill="#e0f4fa"/><circle cx="123.5" cy="515.9" r="2.35" fill="#e0f4fa"/><circle cx="123.5" cy="514.85" r="2.35" fill="#e0f4fa"/><circle cx="123.5" cy="513.98" r="2.35" fill="#e0f4fa"/><circle cx="123.5" cy="509.25" r="2.35" fill="#e0f4fa"/><circle cx="123.5" cy="506.1" r="2.35" fill="#e0f4fa"/><circle cx="123.5" cy="498.4" r="2.35" fill="#e0f4fa"/><circle cx="123.5" cy="495.95" r="2.35" fill="#e0f4fa"/><circle cx="123.5" cy="487.38" r="2.35" fill="#e0f4fa"/><circle cx="123.5" cy="387.27" r="2.35" fill="#e0f4fa"/><circle cx="123.5" cy="516.95" r="1.25" fill="#b2d4dd"/><circle cx="123.5" cy="515.9" r="1.25" fill="#b2d4dd"/><circle cx="123.5" cy="514.85" r="1.25" fill="#b2d4dd"/><circle cx="123.5" cy="513.98" r="1.25" fill="#b2d4dd"/><circle cx="123.5" cy="509.25" r="1.25" fill="#b2d4dd"/><circle cx="123.5" cy="506.1" r="1.25" fill="#b2d4dd"/><circle cx="123.5" cy="498.4" r="1.25" fill="#b2d4dd"/><circle cx="123.5" cy="495.95" r="1.25" fill="#b2d4dd"/><circle cx="123.5" cy="487.38" r="1.25" fill="#b2d4dd"/><circle cx="123.5" cy="387.27" r="1.25" fill="#b2d4dd"/><rect x="113.75" y="531.05" width="19.5" height="8.33" fill="#b4d7f3"/><line x1="113.75" y1="536.79" x2="133.25" y2="536.79" stroke="#1d3b5a" stroke-width="1.15"/><path d="M120.8 533.58L123.5 531.12L126.2 533.58L123.5 536.03Z" fill="#fff" stroke="#14304d" stroke-width="1.3"/><line x1="123.5" y1="518.17" x2="123.5" y2="531.05" stroke="#262626" stroke-width="1.15"/><line x1="123.5" y1="539.38" x2="123.5" y2="542.5" stroke="#262626" stroke-width="1.15"/><line x1="122" y1="518.17" x2="125" y2="518.17" stroke="#262626" stroke-width="1"/><line x1="122" y1="542.5" x2="125" y2="542.5" stroke="#262626" stroke-width="1"/><circle cx="174.26" cy="524.12" r="2.35" fill="#e0f4fa"/><circle cx="174.26" cy="520.62" r="2.35" fill="#e0f4fa"/><circle cx="174.26" cy="518.52" r="2.35" fill="#e0f4fa"/><circle cx="174.26" cy="513.8" r="2.35" fill="#e0f4fa"/><circle cx="174.26" cy="495.95" r="2.35" fill="#e0f4fa"/><circle cx="174.26" cy="524.12" r="1.25" fill="#b2d4dd"/><circle cx="174.26" cy="520.62" r="1.25" fill="#b2d4dd"/><circle cx="174.26" cy="518.52" r="1.25" fill="#b2d4dd"/><circle cx="174.26" cy="513.8" r="1.25" fill="#b2d4dd"/><circle cx="174.26" cy="495.95" r="1.25" fill="#b2d4dd"/><rect x="164.51" y="535.75" width="19.5" height="6" fill="#b4d7f3"/><line x1="164.51" y1="539.54" x2="184.01" y2="539.54" stroke="#1d3b5a" stroke-width="1.15"/><path d="M171.56 537.39L174.26 534.94L176.96 537.39L174.26 539.84Z" fill="#fff" stroke="#14304d" stroke-width="1.3"/><line x1="174.5" y1="526.45" x2="174.5" y2="535.75" stroke="#262626" stroke-width="1.15"/><line x1="174.5" y1="541.75" x2="174.5" y2="542.5" stroke="#262626" stroke-width="1.15"/><line x1="172.76" y1="526.45" x2="175.76" y2="526.45" stroke="#262626" stroke-width="1"/><line x1="172.76" y1="542.5" x2="175.76" y2="542.5" stroke="#262626" stroke-width="1"/><circle cx="213.86" cy="520.45" r="2.35" fill="#e0f4fa"/><circle cx="213.86" cy="517.12" r="2.35" fill="#e0f4fa"/><circle cx="213.86" cy="515.9" r="2.35" fill="#e0f4fa"/><circle cx="213.86" cy="513.98" r="2.35" fill="#e0f4fa"/><circle cx="213.86" cy="497.7" r="2.35" fill="#e0f4fa"/><circle cx="213.86" cy="520.45" r="1.25" fill="#b2d4dd"/><circle cx="213.86" cy="517.12" r="1.25" fill="#b2d4dd"/><circle cx="213.86" cy="515.9" r="1.25" fill="#b2d4dd"/><circle cx="213.86" cy="513.98" r="1.25" fill="#b2d4dd"/><circle cx="213.86" cy="497.7" r="1.25" fill="#b2d4dd"/><rect x="204.11" y="533.26" width="19.5" height="7.49" fill="#b4d7f3"/><line x1="204.11" y1="537.51" x2="223.61" y2="537.51" stroke="#1d3b5a" stroke-width="1.15"/><path d="M211.16 535.45L213.86 533L216.56 535.45L213.86 537.9Z" fill="#fff" stroke="#14304d" stroke-width="1.3"/><line x1="213.5" y1="522.2" x2="213.5" y2="533.26" stroke="#262626" stroke-width="1.15"/><line x1="213.5" y1="540.75" x2="213.5" y2="542.5" stroke="#262626" stroke-width="1.15"/><line x1="212.36" y1="522.2" x2="215.36" y2="522.2" stroke="#262626" stroke-width="1"/><line x1="212.36" y1="542.5" x2="215.36" y2="542.5" stroke="#262626" stroke-width="1"/><circle cx="264.62" cy="519.23" r="2.35" fill="#e0f4fa"/><circle cx="264.62" cy="513.1" r="2.35" fill="#e0f4fa"/><circle cx="264.62" cy="511.88" r="2.35" fill="#e0f4fa"/><circle cx="264.62" cy="506.98" r="2.35" fill="#e0f4fa"/><circle cx="264.62" cy="494.55" r="2.35" fill="#e0f4fa"/><circle cx="264.62" cy="481.43" r="2.35" fill="#e0f4fa"/><circle cx="264.62" cy="409.15" r="2.35" fill="#e0f4fa"/><circle cx="264.62" cy="519.23" r="1.25" fill="#b2d4dd"/><circle cx="264.62" cy="513.1" r="1.25" fill="#b2d4dd"/><circle cx="264.62" cy="511.88" r="1.25" fill="#b2d4dd"/><circle cx="264.62" cy="506.98" r="1.25" fill="#b2d4dd"/><circle cx="264.62" cy="494.55" r="1.25" fill="#b2d4dd"/><circle cx="264.62" cy="481.43" r="1.25" fill="#b2d4dd"/><circle cx="264.62" cy="409.15" r="1.25" fill="#b2d4dd"/><rect x="254.87" y="532.35" width="19.5" height="8.08" fill="#b4d7f3"/><line x1="254.87" y1="537.25" x2="274.37" y2="537.25" stroke="#1d3b5a" stroke-width="1.15"/><path d="M261.92 533.98L264.62 531.53L267.32 533.98L264.62 536.43Z" fill="#fff" stroke="#14304d" stroke-width="1.3"/><line x1="264.5" y1="521.15" x2="264.5" y2="532.35" stroke="#262626" stroke-width="1.15"/><line x1="264.5" y1="540.43" x2="264.5" y2="542.5" stroke="#262626" stroke-width="1.15"/><line x1="263.12" y1="521.15" x2="266.12" y2="521.15" stroke="#262626" stroke-width="1"/><line x1="263.12" y1="542.5" x2="266.12" y2="542.5" stroke="#262626" stroke-width="1"/><circle cx="304.22" cy="515.02" r="2.35" fill="#e0f4fa"/><circle cx="304.22" cy="514.33" r="2.35" fill="#e0f4fa"/><circle cx="304.22" cy="509.25" r="2.35" fill="#e0f4fa"/><circle cx="304.22" cy="506.1" r="2.35" fill="#e0f4fa"/><circle cx="304.22" cy="500.15" r="2.35" fill="#e0f4fa"/><circle cx="304.22" cy="495.25" r="2.35" fill="#e0f4fa"/><circle cx="304.22" cy="487.38" r="2.35" fill="#e0f4fa"/><circle cx="304.22" cy="387.27" r="2.35" fill="#e0f4fa"/><circle cx="304.22" cy="515.02" r="1.25" fill="#b2d4dd"/><circle cx="304.22" cy="514.33" r="1.25" fill="#b2d4dd"/><circle cx="304.22" cy="509.25" r="1.25" fill="#b2d4dd"/><circle cx="304.22" cy="506.1" r="1.25" fill="#b2d4dd"/><circle cx="304.22" cy="500.15" r="1.25" fill="#b2d4dd"/><circle cx="304.22" cy="495.25" r="1.25" fill="#b2d4dd"/><circle cx="304.22" cy="487.38" r="1.25" fill="#b2d4dd"/><circle cx="304.22" cy="387.27" r="1.25" fill="#b2d4dd"/><rect x="294.47" y="530.16" width="19.5" height="8.63" fill="#b4d7f3"/><line x1="294.47" y1="536.02" x2="313.97" y2="536.02" stroke="#1d3b5a" stroke-width="1.15"/><path d="M301.52 531.53L304.22 529.08L306.92 531.53L304.22 533.98Z" fill="#fff" stroke="#14304d" stroke-width="1.3"/><line x1="304.5" y1="517.21" x2="304.5" y2="530.16" stroke="#262626" stroke-width="1.15"/><line x1="304.5" y1="538.79" x2="304.5" y2="542.5" stroke="#262626" stroke-width="1.15"/><line x1="302.72" y1="517.21" x2="305.72" y2="517.21" stroke="#262626" stroke-width="1"/><line x1="302.72" y1="542.5" x2="305.72" y2="542.5" stroke="#262626" stroke-width="1"/><circle cx="354.98" cy="520.62" r="2.35" fill="#e0f4fa"/><circle cx="354.98" cy="519.23" r="2.35" fill="#e0f4fa"/><circle cx="354.98" cy="517.83" r="2.35" fill="#e0f4fa"/><circle cx="354.98" cy="513.45" r="2.35" fill="#e0f4fa"/><circle cx="354.98" cy="511.7" r="2.35" fill="#e0f4fa"/><circle cx="354.98" cy="506.1" r="2.35" fill="#e0f4fa"/><circle cx="354.98" cy="481.43" r="2.35" fill="#e0f4fa"/><circle cx="354.98" cy="409.15" r="2.35" fill="#e0f4fa"/><circle cx="354.98" cy="520.62" r="1.25" fill="#b2d4dd"/><circle cx="354.98" cy="519.23" r="1.25" fill="#b2d4dd"/><circle cx="354.98" cy="517.83" r="1.25" fill="#b2d4dd"/><circle cx="354.98" cy="513.45" r="1.25" fill="#b2d4dd"/><circle cx="354.98" cy="511.7" r="1.25" fill="#b2d4dd"/><circle cx="354.98" cy="506.1" r="1.25" fill="#b2d4dd"/><circle cx="354.98" cy="481.43" r="1.25" fill="#b2d4dd"/><circle cx="354.98" cy="409.15" r="1.25" fill="#b2d4dd"/><rect x="345.23" y="533.4" width="19.5" height="7.75" fill="#b4d7f3"/><line x1="345.23" y1="537.81" x2="364.73" y2="537.81" stroke="#1d3b5a" stroke-width="1.15"/><path d="M352.28 535.75L354.98 533.29L357.68 535.75L354.98 538.2Z" fill="#fff" stroke="#14304d" stroke-width="1.3"/><line x1="354.5" y1="521.33" x2="354.5" y2="533.4" stroke="#262626" stroke-width="1.15"/><line x1="354.5" y1="541.15" x2="354.5" y2="542.5" stroke="#262626" stroke-width="1.15"/><line x1="353.48" y1="521.33" x2="356.48" y2="521.33" stroke="#262626" stroke-width="1"/><line x1="353.48" y1="542.5" x2="356.48" y2="542.5" stroke="#262626" stroke-width="1"/><circle cx="394.58" cy="517.21" r="2.35" fill="#e0f4fa"/><circle cx="394.58" cy="516.25" r="2.35" fill="#e0f4fa"/><circle cx="394.58" cy="515.2" r="2.35" fill="#e0f4fa"/><circle cx="394.58" cy="513.98" r="2.35" fill="#e0f4fa"/><circle cx="394.58" cy="509.25" r="2.35" fill="#e0f4fa"/><circle cx="394.58" cy="506.1" r="2.35" fill="#e0f4fa"/><circle cx="394.58" cy="501.2" r="2.35" fill="#e0f4fa"/><circle cx="394.58" cy="498.4" r="2.35" fill="#e0f4fa"/><circle cx="394.58" cy="495.25" r="2.35" fill="#e0f4fa"/><circle cx="394.58" cy="487.38" r="2.35" fill="#e0f4fa"/><circle cx="394.58" cy="387.27" r="2.35" fill="#e0f4fa"/><circle cx="394.58" cy="517.21" r="1.25" fill="#b2d4dd"/><circle cx="394.58" cy="516.25" r="1.25" fill="#b2d4dd"/><circle cx="394.58" cy="515.2" r="1.25" fill="#b2d4dd"/><circle cx="394.58" cy="513.98" r="1.25" fill="#b2d4dd"/><circle cx="394.58" cy="509.25" r="1.25" fill="#b2d4dd"/><circle cx="394.58" cy="506.1" r="1.25" fill="#b2d4dd"/><circle cx="394.58" cy="501.2" r="1.25" fill="#b2d4dd"/><circle cx="394.58" cy="498.4" r="1.25" fill="#b2d4dd"/><circle cx="394.58" cy="495.25" r="1.25" fill="#b2d4dd"/><circle cx="394.58" cy="487.38" r="1.25" fill="#b2d4dd"/><circle cx="394.58" cy="387.27" r="1.25" fill="#b2d4dd"/><rect x="384.83" y="530.95" width="19.5" height="8.59" fill="#b4d7f3"/><line x1="384.83" y1="537.08" x2="404.33" y2="537.08" stroke="#1d3b5a" stroke-width="1.15"/><path d="M391.88 533.4L394.58 530.95L397.28 533.4L394.58 535.85Z" fill="#fff" stroke="#14304d" stroke-width="1.3"/><line x1="394.5" y1="518" x2="394.5" y2="530.95" stroke="#262626" stroke-width="1.15"/><line x1="394.5" y1="539.54" x2="394.5" y2="542.5" stroke="#262626" stroke-width="1.15"/><line x1="393.08" y1="518" x2="396.08" y2="518" stroke="#262626" stroke-width="1"/><line x1="393.08" y1="542.5" x2="396.08" y2="542.5" stroke="#262626" stroke-width="1"/><circle cx="445.34" cy="527.1" r="2.35" fill="#e0f4fa"/><circle cx="445.34" cy="494.73" r="2.35" fill="#e0f4fa"/><circle cx="445.34" cy="527.1" r="1.25" fill="#b2d4dd"/><circle cx="445.34" cy="494.73" r="1.25" fill="#b2d4dd"/><rect x="435.59" y="537.51" width="19.5" height="3.24" fill="#b4d7f3"/><line x1="435.59" y1="539.46" x2="455.09" y2="539.46" stroke="#1d3b5a" stroke-width="1.15"/><path d="M442.64 535.27L445.34 532.82L448.04 535.27L445.34 537.72Z" fill="#fff" stroke="#14304d" stroke-width="1.3"/><line x1="445.5" y1="532.35" x2="445.5" y2="537.51" stroke="#262626" stroke-width="1.15"/><line x1="445.5" y1="540.75" x2="445.5" y2="542.5" stroke="#262626" stroke-width="1.15"/><line x1="443.84" y1="532.35" x2="446.84" y2="532.35" stroke="#262626" stroke-width="1"/><line x1="443.84" y1="542.5" x2="446.84" y2="542.5" stroke="#262626" stroke-width="1"/><circle cx="484.94" cy="495.25" r="2.35" fill="#e0f4fa"/><circle cx="484.94" cy="495.25" r="1.25" fill="#b2d4dd"/><rect x="475.19" y="532.7" width="19.5" height="6" fill="#b4d7f3"/><line x1="475.19" y1="535.45" x2="494.69" y2="535.45" stroke="#1d3b5a" stroke-width="1.15"/><path d="M482.24 533.98L484.94 531.53L487.64 533.98L484.94 536.43Z" fill="#fff" stroke="#14304d" stroke-width="1.3"/><line x1="484.5" y1="523.5" x2="484.5" y2="532.7" stroke="#262626" stroke-width="1.15"/><line x1="484.5" y1="538.7" x2="484.5" y2="542.5" stroke="#262626" stroke-width="1.15"/><line x1="483.44" y1="523.5" x2="486.44" y2="523.5" stroke="#262626" stroke-width="1"/><line x1="483.44" y1="542.5" x2="486.44" y2="542.5" stroke="#262626" stroke-width="1"/><rect x="194.4" y="585.9" width="299.1" height="87.7" fill="#fff"/><circle cx="211.2" cy="623.32" r="2.2" fill="#e0f4fa"/><circle cx="211.2" cy="619.17" r="2.2" fill="#e0f4fa"/><circle cx="211.2" cy="615.44" r="2.2" fill="#e0f4fa"/><circle cx="211.2" cy="603.01" r="2.2" fill="#e0f4fa"/><circle cx="211.2" cy="599.69" r="2.2" fill="#e0f4fa"/><circle cx="211.2" cy="587.26" r="2.2" fill="#e0f4fa"/><circle cx="211.2" cy="623.32" r="1.1" fill="#b2d4dd"/><circle cx="211.2" cy="619.17" r="1.1" fill="#b2d4dd"/><circle cx="211.2" cy="615.44" r="1.1" fill="#b2d4dd"/><circle cx="211.2" cy="603.01" r="1.1" fill="#b2d4dd"/><circle cx="211.2" cy="599.69" r="1.1" fill="#b2d4dd"/><circle cx="211.2" cy="587.26" r="1.1" fill="#b2d4dd"/><rect x="204.6" y="650.09" width="13.2" height="17.49" fill="#b4d7f3"/><line x1="204.6" y1="661.2" x2="217.8" y2="661.2" stroke="#1d3b5a" stroke-width="1.15"/><path d="M208.9 655.4L211.2 654L213.5 655.4L211.2 656.8Z" fill="#fff" stroke="#14304d" stroke-width="1.1"/><line x1="211.5" y1="628.29" x2="211.5" y2="650.09" stroke="#262626" stroke-width="1.0"/><line x1="211.5" y1="667.59" x2="211.5" y2="671.4" stroke="#262626" stroke-width="1.0"/><line x1="209.7" y1="628.29" x2="212.7" y2="628.29" stroke="#262626" stroke-width="1"/><line x1="209.7" y1="671.4" x2="212.7" y2="671.4" stroke="#262626" stroke-width="1"/><circle cx="237.6" cy="610.88" r="2.2" fill="#e0f4fa"/><circle cx="237.6" cy="608.4" r="2.2" fill="#e0f4fa"/><circle cx="237.6" cy="605.91" r="2.2" fill="#e0f4fa"/><circle cx="237.6" cy="603.84" r="2.2" fill="#e0f4fa"/><circle cx="237.6" cy="592.64" r="2.2" fill="#e0f4fa"/><circle cx="237.6" cy="610.88" r="1.1" fill="#b2d4dd"/><circle cx="237.6" cy="608.4" r="1.1" fill="#b2d4dd"/><circle cx="237.6" cy="605.91" r="1.1" fill="#b2d4dd"/><circle cx="237.6" cy="603.84" r="1.1" fill="#b2d4dd"/><circle cx="237.6" cy="592.64" r="1.1" fill="#b2d4dd"/><rect x="231" y="644.29" width="13.2" height="19.73" fill="#b4d7f3"/><line x1="231" y1="657.89" x2="244.2" y2="657.89" stroke="#1d3b5a" stroke-width="1.15"/><path d="M235.3 650.26L237.6 648.86L239.9 650.26L237.6 651.66Z" fill="#fff" stroke="#14304d" stroke-width="1.1"/><line x1="237.5" y1="613.78" x2="237.5" y2="644.29" stroke="#262626" stroke-width="1.0"/><line x1="237.5" y1="664.02" x2="237.5" y2="671.4" stroke="#262626" stroke-width="1.0"/><line x1="236.1" y1="613.78" x2="239.1" y2="613.78" stroke="#262626" stroke-width="1"/><line x1="236.1" y1="671.4" x2="239.1" y2="671.4" stroke="#262626" stroke-width="1"/><circle cx="271.02" cy="627.88" r="2.2" fill="#e0f4fa"/><circle cx="271.02" cy="619.59" r="2.2" fill="#e0f4fa"/><circle cx="271.02" cy="614.61" r="2.2" fill="#e0f4fa"/><circle cx="271.02" cy="603.42" r="2.2" fill="#e0f4fa"/><circle cx="271.02" cy="627.88" r="1.1" fill="#b2d4dd"/><circle cx="271.02" cy="619.59" r="1.1" fill="#b2d4dd"/><circle cx="271.02" cy="614.61" r="1.1" fill="#b2d4dd"/><circle cx="271.02" cy="603.42" r="1.1" fill="#b2d4dd"/><rect x="264.42" y="655.4" width="13.2" height="14.22" fill="#b4d7f3"/><line x1="264.42" y1="664.39" x2="277.62" y2="664.39" stroke="#1d3b5a" stroke-width="1.15"/><path d="M268.72 659.3L271.02 657.9L273.32 659.3L271.02 660.7Z" fill="#fff" stroke="#14304d" stroke-width="1.1"/><line x1="271.5" y1="633.39" x2="271.5" y2="655.4" stroke="#262626" stroke-width="1.0"/><line x1="271.5" y1="669.62" x2="271.5" y2="671.4" stroke="#262626" stroke-width="1.0"/><line x1="269.52" y1="633.39" x2="272.52" y2="633.39" stroke="#262626" stroke-width="1"/><line x1="269.52" y1="671.4" x2="272.52" y2="671.4" stroke="#262626" stroke-width="1"/><circle cx="297.42" cy="619.17" r="2.2" fill="#e0f4fa"/><circle cx="297.42" cy="611.3" r="2.2" fill="#e0f4fa"/><circle cx="297.42" cy="608.4" r="2.2" fill="#e0f4fa"/><circle cx="297.42" cy="603.84" r="2.2" fill="#e0f4fa"/><circle cx="297.42" cy="619.17" r="1.1" fill="#b2d4dd"/><circle cx="297.42" cy="611.3" r="1.1" fill="#b2d4dd"/><circle cx="297.42" cy="608.4" r="1.1" fill="#b2d4dd"/><circle cx="297.42" cy="603.84" r="1.1" fill="#b2d4dd"/><rect x="290.82" y="649.51" width="13.2" height="17.74" fill="#b4d7f3"/><line x1="290.82" y1="659.59" x2="304.02" y2="659.59" stroke="#1d3b5a" stroke-width="1.15"/><path d="M295.12 654.7L297.42 653.3L299.72 654.7L297.42 656.1Z" fill="#fff" stroke="#14304d" stroke-width="1.1"/><line x1="297.5" y1="623.32" x2="297.5" y2="649.51" stroke="#262626" stroke-width="1.0"/><line x1="297.5" y1="667.25" x2="297.5" y2="671.4" stroke="#262626" stroke-width="1.0"/><line x1="295.92" y1="623.32" x2="298.92" y2="623.32" stroke="#262626" stroke-width="1"/><line x1="295.92" y1="671.4" x2="298.92" y2="671.4" stroke="#262626" stroke-width="1"/><circle cx="330.84" cy="616.27" r="2.2" fill="#e0f4fa"/><circle cx="330.84" cy="601.76" r="2.2" fill="#e0f4fa"/><circle cx="330.84" cy="598.86" r="2.2" fill="#e0f4fa"/><circle cx="330.84" cy="587.26" r="2.2" fill="#e0f4fa"/><circle cx="330.84" cy="616.27" r="1.1" fill="#b2d4dd"/><circle cx="330.84" cy="601.76" r="1.1" fill="#b2d4dd"/><circle cx="330.84" cy="598.86" r="1.1" fill="#b2d4dd"/><circle cx="330.84" cy="587.26" r="1.1" fill="#b2d4dd"/><rect x="324.24" y="647.36" width="13.2" height="19.15" fill="#b4d7f3"/><line x1="324.24" y1="658.97" x2="337.44" y2="658.97" stroke="#1d3b5a" stroke-width="1.15"/><path d="M328.54 651.21L330.84 649.81L333.14 651.21L330.84 652.61Z" fill="#fff" stroke="#14304d" stroke-width="1.1"/><line x1="330.5" y1="620.83" x2="330.5" y2="647.36" stroke="#262626" stroke-width="1.0"/><line x1="330.5" y1="666.51" x2="330.5" y2="671.4" stroke="#262626" stroke-width="1.0"/><line x1="329.34" y1="620.83" x2="332.34" y2="620.83" stroke="#262626" stroke-width="1"/><line x1="329.34" y1="671.4" x2="332.34" y2="671.4" stroke="#262626" stroke-width="1"/><circle cx="357.24" cy="606.32" r="2.2" fill="#e0f4fa"/><circle cx="357.24" cy="604.67" r="2.2" fill="#e0f4fa"/><circle cx="357.24" cy="592.64" r="2.2" fill="#e0f4fa"/><circle cx="357.24" cy="606.32" r="1.1" fill="#b2d4dd"/><circle cx="357.24" cy="604.67" r="1.1" fill="#b2d4dd"/><circle cx="357.24" cy="592.64" r="1.1" fill="#b2d4dd"/><rect x="350.64" y="642.18" width="13.2" height="20.43" fill="#b4d7f3"/><line x1="350.64" y1="656.06" x2="363.84" y2="656.06" stroke="#1d3b5a" stroke-width="1.15"/><path d="M354.94 645.41L357.24 644.01L359.54 645.41L357.24 646.81Z" fill="#fff" stroke="#14304d" stroke-width="1.1"/><line x1="357.5" y1="611.5" x2="357.5" y2="642.18" stroke="#262626" stroke-width="1.0"/><line x1="357.5" y1="662.61" x2="357.5" y2="671.4" stroke="#262626" stroke-width="1.0"/><line x1="355.74" y1="611.5" x2="358.74" y2="611.5" stroke="#262626" stroke-width="1"/><line x1="355.74" y1="671.4" x2="358.74" y2="671.4" stroke="#262626" stroke-width="1"/><circle cx="390.66" cy="619.59" r="2.2" fill="#e0f4fa"/><circle cx="390.66" cy="616.27" r="2.2" fill="#e0f4fa"/><circle cx="390.66" cy="612.96" r="2.2" fill="#e0f4fa"/><circle cx="390.66" cy="602.59" r="2.2" fill="#e0f4fa"/><circle cx="390.66" cy="598.45" r="2.2" fill="#e0f4fa"/><circle cx="390.66" cy="619.59" r="1.1" fill="#b2d4dd"/><circle cx="390.66" cy="616.27" r="1.1" fill="#b2d4dd"/><circle cx="390.66" cy="612.96" r="1.1" fill="#b2d4dd"/><circle cx="390.66" cy="602.59" r="1.1" fill="#b2d4dd"/><circle cx="390.66" cy="598.45" r="1.1" fill="#b2d4dd"/><rect x="384.06" y="649.85" width="13.2" height="18.36" fill="#b4d7f3"/><line x1="384.06" y1="660.29" x2="397.26" y2="660.29" stroke="#1d3b5a" stroke-width="1.15"/><path d="M388.36 655.4L390.66 654L392.96 655.4L390.66 656.8Z" fill="#fff" stroke="#14304d" stroke-width="1.1"/><line x1="390.5" y1="621.25" x2="390.5" y2="649.85" stroke="#262626" stroke-width="1.0"/><line x1="390.5" y1="668.21" x2="390.5" y2="671.4" stroke="#262626" stroke-width="1.0"/><line x1="389.16" y1="621.25" x2="392.16" y2="621.25" stroke="#262626" stroke-width="1"/><line x1="389.16" y1="671.4" x2="392.16" y2="671.4" stroke="#262626" stroke-width="1"/><circle cx="417.06" cy="611.5" r="2.2" fill="#e0f4fa"/><circle cx="417.06" cy="609.23" r="2.2" fill="#e0f4fa"/><circle cx="417.06" cy="606.74" r="2.2" fill="#e0f4fa"/><circle cx="417.06" cy="603.84" r="2.2" fill="#e0f4fa"/><circle cx="417.06" cy="592.64" r="2.2" fill="#e0f4fa"/><circle cx="417.06" cy="611.5" r="1.1" fill="#b2d4dd"/><circle cx="417.06" cy="609.23" r="1.1" fill="#b2d4dd"/><circle cx="417.06" cy="606.74" r="1.1" fill="#b2d4dd"/><circle cx="417.06" cy="603.84" r="1.1" fill="#b2d4dd"/><circle cx="417.06" cy="592.64" r="1.1" fill="#b2d4dd"/><rect x="410.46" y="644.04" width="13.2" height="20.35" fill="#b4d7f3"/><line x1="410.46" y1="658.55" x2="423.66" y2="658.55" stroke="#1d3b5a" stroke-width="1.15"/><path d="M414.76 649.85L417.06 648.45L419.36 649.85L417.06 651.25Z" fill="#fff" stroke="#14304d" stroke-width="1.1"/><line x1="417.5" y1="613.37" x2="417.5" y2="644.04" stroke="#262626" stroke-width="1.0"/><line x1="417.5" y1="664.39" x2="417.5" y2="671.4" stroke="#262626" stroke-width="1.0"/><line x1="415.56" y1="613.37" x2="418.56" y2="613.37" stroke="#262626" stroke-width="1"/><line x1="415.56" y1="671.4" x2="418.56" y2="671.4" stroke="#262626" stroke-width="1"/><circle cx="450.48" cy="634.92" r="2.2" fill="#e0f4fa"/><circle cx="450.48" cy="634.92" r="1.1" fill="#b2d4dd"/><rect x="443.88" y="659.59" width="13.2" height="7.67" fill="#b4d7f3"/><line x1="443.88" y1="664.19" x2="457.08" y2="664.19" stroke="#1d3b5a" stroke-width="1.15"/><path d="M448.18 654.28L450.48 652.88L452.78 654.28L450.48 655.68Z" fill="#fff" stroke="#14304d" stroke-width="1.1"/><line x1="450.5" y1="647.36" x2="450.5" y2="659.59" stroke="#262626" stroke-width="1.0"/><line x1="450.5" y1="667.25" x2="450.5" y2="671.4" stroke="#262626" stroke-width="1.0"/><line x1="448.98" y1="647.36" x2="451.98" y2="647.36" stroke="#262626" stroke-width="1"/><line x1="448.98" y1="671.4" x2="451.98" y2="671.4" stroke="#262626" stroke-width="1"/><rect x="470.28" y="648.19" width="13.2" height="14.22" fill="#b4d7f3"/><line x1="470.28" y1="654.7" x2="483.48" y2="654.7" stroke="#1d3b5a" stroke-width="1.15"/><path d="M474.58 651.21L476.88 649.81L479.18 651.21L476.88 652.61Z" fill="#fff" stroke="#14304d" stroke-width="1.1"/><line x1="476.5" y1="626.39" x2="476.5" y2="648.19" stroke="#262626" stroke-width="1.0"/><line x1="476.5" y1="662.41" x2="476.5" y2="671.4" stroke="#262626" stroke-width="1.0"/><line x1="475.38" y1="626.39" x2="478.38" y2="626.39" stroke="#262626" stroke-width="1"/><line x1="475.38" y1="671.4" x2="478.38" y2="671.4" stroke="#262626" stroke-width="1"/><rect x="58.5" y="362.4" width="451.8" height="185.4" fill="none" stroke="#303030" stroke-width="1.3"/><line x1="58.5" y1="382.8" x2="510.3" y2="382.8" stroke="#303030" stroke-width="1.3"/><line x1="148.86" y1="362.4" x2="148.86" y2="547.8" stroke="#303030" stroke-width="1.3"/><line x1="239.22" y1="362.4" x2="239.22" y2="547.8" stroke="#303030" stroke-width="1.3"/><line x1="329.58" y1="362.4" x2="329.58" y2="547.8" stroke="#303030" stroke-width="1.3"/><line x1="419.94" y1="362.4" x2="419.94" y2="547.8" stroke="#303030" stroke-width="1.3"/><line x1="55.2" y1="542.5" x2="58.5" y2="542.5" stroke="#303030" stroke-width="1"/><text x="52.7" y="545.4" font-size="8.3" fill="#2a2a2a" stroke="#2a2a2a" stroke-width="0.22" text-anchor="end">0</text><line x1="55.2" y1="507.5" x2="58.5" y2="507.5" stroke="#303030" stroke-width="1"/><text x="52.7" y="510.4" font-size="8.3" fill="#2a2a2a" stroke="#2a2a2a" stroke-width="0.22" text-anchor="end">20</text><line x1="55.2" y1="472.5" x2="58.5" y2="472.5" stroke="#303030" stroke-width="1"/><text x="52.7" y="475.4" font-size="8.3" fill="#2a2a2a" stroke="#2a2a2a" stroke-width="0.22" text-anchor="end">40</text><line x1="55.2" y1="437.5" x2="58.5" y2="437.5" stroke="#303030" stroke-width="1"/><text x="52.7" y="440.4" font-size="8.3" fill="#2a2a2a" stroke="#2a2a2a" stroke-width="0.22" text-anchor="end">60</text><line x1="55.2" y1="402.5" x2="58.5" y2="402.5" stroke="#303030" stroke-width="1"/><text x="52.7" y="405.4" font-size="8.3" fill="#2a2a2a" stroke="#2a2a2a" stroke-width="0.22" text-anchor="end">80</text><line x1="83.9" y1="547.8" x2="83.9" y2="550.8" stroke="#303030" stroke-width="1"/><text x="83.9" y="561.5" font-size="8.4" fill="#fbfbfc" text-anchor="middle" stroke="#fbfbfc" stroke-width="2.2" stroke-linejoin="round" paint-order="stroke">Acala</text><text x="83.9" y="561.5" font-size="8.4" fill="#2a2a2a" stroke="#2a2a2a" stroke-width="0.22" text-anchor="middle">Acala</text><text x="83.9" y="577.7" font-size="8.4" fill="#fbfbfc" text-anchor="middle" stroke="#fbfbfc" stroke-width="2.2" stroke-linejoin="round" paint-order="stroke">266</text><text x="83.9" y="577.7" font-size="8.4" fill="#2a2a2a" stroke="#2a2a2a" stroke-width="0.22" text-anchor="middle">266</text><line x1="123.5" y1="547.8" x2="123.5" y2="550.8" stroke="#303030" stroke-width="1"/><text x="123.5" y="561.5" font-size="8.4" fill="#fbfbfc" text-anchor="middle" stroke="#fbfbfc" stroke-width="2.2" stroke-linejoin="round" paint-order="stroke">Ibr</text><text x="123.5" y="561.5" font-size="8.4" fill="#2a2a2a" stroke="#2a2a2a" stroke-width="0.22" text-anchor="middle">Ibr</text><text x="123.5" y="577.7" font-size="8.4" fill="#fbfbfc" text-anchor="middle" stroke="#fbfbfc" stroke-width="2.2" stroke-linejoin="round" paint-order="stroke">263</text><text x="123.5" y="577.7" font-size="8.4" fill="#2a2a2a" stroke="#2a2a2a" stroke-width="0.22" text-anchor="middle">263</text><text x="103.68" y="375.5" font-size="8.4" fill="#2a2a2a" stroke="#2a2a2a" stroke-width="0.22" text-anchor="middle" textLength="41.5" lengthAdjust="spacingAndGlyphs">All patients</text><text x="103.68" y="402.5" font-size="8.3" fill="#3b5f8c" stroke="#3b5f8c" stroke-width="0.15" text-anchor="middle" textLength="35.6" lengthAdjust="spacingAndGlyphs"><tspan font-style="italic">P</tspan> = .0006</text><line x1="174.26" y1="547.8" x2="174.26" y2="550.8" stroke="#303030" stroke-width="1"/><text x="174.26" y="561.5" font-size="8.4" fill="#fbfbfc" text-anchor="middle" stroke="#fbfbfc" stroke-width="2.2" stroke-linejoin="round" paint-order="stroke">Acala</text><text x="174.26" y="561.5" font-size="8.4" fill="#2a2a2a" stroke="#2a2a2a" stroke-width="0.22" text-anchor="middle">Acala</text><text x="174.26" y="577.7" font-size="8.4" fill="#fbfbfc" text-anchor="middle" stroke="#fbfbfc" stroke-width="2.2" stroke-linejoin="round" paint-order="stroke">124</text><text x="174.26" y="577.7" font-size="8.4" fill="#2a2a2a" stroke="#2a2a2a" stroke-width="0.22" text-anchor="middle">124</text><line x1="213.86" y1="547.8" x2="213.86" y2="550.8" stroke="#303030" stroke-width="1"/><text x="213.86" y="561.5" font-size="8.4" fill="#fbfbfc" text-anchor="middle" stroke="#fbfbfc" stroke-width="2.2" stroke-linejoin="round" paint-order="stroke">Ibr</text><text x="213.86" y="561.5" font-size="8.4" fill="#2a2a2a" stroke="#2a2a2a" stroke-width="0.22" text-anchor="middle">Ibr</text><text x="213.86" y="577.7" font-size="8.4" fill="#fbfbfc" text-anchor="middle" stroke="#fbfbfc" stroke-width="2.2" stroke-linejoin="round" paint-order="stroke">121</text><text x="213.86" y="577.7" font-size="8.4" fill="#2a2a2a" stroke="#2a2a2a" stroke-width="0.22" text-anchor="middle">121</text><text x="194.04" y="375.5" font-size="8.4" fill="#2a2a2a" stroke="#2a2a2a" stroke-width="0.22" text-anchor="middle" textLength="80.5" lengthAdjust="spacingAndGlyphs">Age group: <65 years</text><text x="194.04" y="402.5" font-size="8.3" fill="#3b5f8c" stroke="#3b5f8c" stroke-width="0.15" text-anchor="middle" textLength="35.6" lengthAdjust="spacingAndGlyphs"><tspan font-style="italic">P</tspan> = .0119</text><line x1="264.62" y1="547.8" x2="264.62" y2="550.8" stroke="#303030" stroke-width="1"/><text x="264.62" y="561.5" font-size="8.4" fill="#fbfbfc" text-anchor="middle" stroke="#fbfbfc" stroke-width="2.2" stroke-linejoin="round" paint-order="stroke">Acala</text><text x="264.62" y="561.5" font-size="8.4" fill="#2a2a2a" stroke="#2a2a2a" stroke-width="0.22" text-anchor="middle">Acala</text><text x="264.62" y="577.7" font-size="8.4" fill="#fbfbfc" text-anchor="middle" stroke="#fbfbfc" stroke-width="2.2" stroke-linejoin="round" paint-order="stroke">142</text><text x="264.62" y="577.7" font-size="8.4" fill="#2a2a2a" stroke="#2a2a2a" stroke-width="0.22" text-anchor="middle">142</text><line x1="304.22" y1="547.8" x2="304.22" y2="550.8" stroke="#303030" stroke-width="1"/><text x="304.22" y="561.5" font-size="8.4" fill="#fbfbfc" text-anchor="middle" stroke="#fbfbfc" stroke-width="2.2" stroke-linejoin="round" paint-order="stroke">Ibr</text><text x="304.22" y="561.5" font-size="8.4" fill="#2a2a2a" stroke="#2a2a2a" stroke-width="0.22" text-anchor="middle">Ibr</text><text x="304.22" y="577.7" font-size="8.4" fill="#fbfbfc" text-anchor="middle" stroke="#fbfbfc" stroke-width="2.2" stroke-linejoin="round" paint-order="stroke">142</text><text x="304.22" y="577.7" font-size="8.4" fill="#2a2a2a" stroke="#2a2a2a" stroke-width="0.22" text-anchor="middle">142</text><text x="284.4" y="375.5" font-size="8.4" fill="#2a2a2a" stroke="#2a2a2a" stroke-width="0.22" text-anchor="middle" textLength="80.5" lengthAdjust="spacingAndGlyphs">Age group: ≥65 years</text><text x="284.4" y="402.5" font-size="8.3" fill="#3b5f8c" stroke="#3b5f8c" stroke-width="0.15" text-anchor="middle" textLength="35.6" lengthAdjust="spacingAndGlyphs"><tspan font-style="italic">P</tspan> = .0231</text><line x1="354.98" y1="547.8" x2="354.98" y2="550.8" stroke="#303030" stroke-width="1"/><text x="354.98" y="561.5" font-size="8.4" fill="#fbfbfc" text-anchor="middle" stroke="#fbfbfc" stroke-width="2.2" stroke-linejoin="round" paint-order="stroke">Acala</text><text x="354.98" y="561.5" font-size="8.4" fill="#2a2a2a" stroke="#2a2a2a" stroke-width="0.22" text-anchor="middle">Acala</text><text x="354.98" y="577.7" font-size="8.4" fill="#fbfbfc" text-anchor="middle" stroke="#fbfbfc" stroke-width="2.2" stroke-linejoin="round" paint-order="stroke">238</text><text x="354.98" y="577.7" font-size="8.4" fill="#2a2a2a" stroke="#2a2a2a" stroke-width="0.22" text-anchor="middle">238</text><line x1="394.58" y1="547.8" x2="394.58" y2="550.8" stroke="#303030" stroke-width="1"/><text x="394.58" y="561.5" font-size="8.4" fill="#fbfbfc" text-anchor="middle" stroke="#fbfbfc" stroke-width="2.2" stroke-linejoin="round" paint-order="stroke">Ibr</text><text x="394.58" y="561.5" font-size="8.4" fill="#2a2a2a" stroke="#2a2a2a" stroke-width="0.22" text-anchor="middle">Ibr</text><text x="394.58" y="577.7" font-size="8.4" fill="#fbfbfc" text-anchor="middle" stroke="#fbfbfc" stroke-width="2.2" stroke-linejoin="round" paint-order="stroke">236</text><text x="394.58" y="577.7" font-size="8.4" fill="#2a2a2a" stroke="#2a2a2a" stroke-width="0.22" text-anchor="middle">236</text><text x="374.76" y="375.5" font-size="8.4" fill="#2a2a2a" stroke="#2a2a2a" stroke-width="0.22" text-anchor="middle" textLength="70.5" lengthAdjust="spacingAndGlyphs">Prior therapies: 1-3</text><text x="374.76" y="402.5" font-size="8.3" fill="#3b5f8c" stroke="#3b5f8c" stroke-width="0.15" text-anchor="middle" textLength="35.6" lengthAdjust="spacingAndGlyphs"><tspan font-style="italic">P</tspan> = .0029</text><line x1="445.34" y1="547.8" x2="445.34" y2="550.8" stroke="#303030" stroke-width="1"/><text x="445.34" y="561.5" font-size="8.4" fill="#fbfbfc" text-anchor="middle" stroke="#fbfbfc" stroke-width="2.2" stroke-linejoin="round" paint-order="stroke">Acala</text><text x="445.34" y="561.5" font-size="8.4" fill="#2a2a2a" stroke="#2a2a2a" stroke-width="0.22" text-anchor="middle">Acala</text><text x="445.34" y="577.7" font-size="8.4" fill="#fbfbfc" text-anchor="middle" stroke="#fbfbfc" stroke-width="2.2" stroke-linejoin="round" paint-order="stroke">28</text><text x="445.34" y="577.7" font-size="8.4" fill="#2a2a2a" stroke="#2a2a2a" stroke-width="0.22" text-anchor="middle">28</text><line x1="484.94" y1="547.8" x2="484.94" y2="550.8" stroke="#303030" stroke-width="1"/><text x="484.94" y="561.5" font-size="8.4" fill="#fbfbfc" text-anchor="middle" stroke="#fbfbfc" stroke-width="2.2" stroke-linejoin="round" paint-order="stroke">Ibr</text><text x="484.94" y="561.5" font-size="8.4" fill="#2a2a2a" stroke="#2a2a2a" stroke-width="0.22" text-anchor="middle">Ibr</text><text x="484.94" y="577.7" font-size="8.4" fill="#fbfbfc" text-anchor="middle" stroke="#fbfbfc" stroke-width="2.2" stroke-linejoin="round" paint-order="stroke">27</text><text x="484.94" y="577.7" font-size="8.4" fill="#2a2a2a" stroke="#2a2a2a" stroke-width="0.22" text-anchor="middle">27</text><text x="465.12" y="375.5" font-size="8.4" fill="#2a2a2a" stroke="#2a2a2a" stroke-width="0.22" text-anchor="middle" textLength="67.5" lengthAdjust="spacingAndGlyphs">Prior therapies: ≥4</text><text x="465.12" y="402.5" font-size="8.3" fill="#3b5f8c" stroke="#3b5f8c" stroke-width="0.15" text-anchor="middle" textLength="35.6" lengthAdjust="spacingAndGlyphs"><tspan font-style="italic">P</tspan> = .0605</text><text x="70.9" y="567.9" font-size="8.4" fill="#2a2a2a" stroke="#2a2a2a" stroke-width="0.22" text-anchor="end" textLength="54.8" lengthAdjust="spacingAndGlyphs">No. of pts with</text><text x="70.1" y="578.3" font-size="8.4" fill="#2a2a2a" stroke="#2a2a2a" stroke-width="0.22" text-anchor="end" textLength="62.8" lengthAdjust="spacingAndGlyphs">AE burden score:</text><text transform="translate(37.6,503.7) rotate(-90)" font-size="10" fill="#2a2a2a" stroke="#2a2a2a" stroke-width="0.1" textLength="95.6" lengthAdjust="spacingAndGlyphs">AE burden score (grade 1-5)</text><rect x="194.4" y="585.9" width="299.1" height="87.7" fill="none" stroke="#303030" stroke-width="1.3"/><line x1="254.22" y1="585.9" x2="254.22" y2="673.6" stroke="#303030" stroke-width="1.3"/><line x1="314.04" y1="585.9" x2="314.04" y2="673.6" stroke="#303030" stroke-width="1.3"/><line x1="373.86" y1="585.9" x2="373.86" y2="673.6" stroke="#303030" stroke-width="1.3"/><line x1="433.68" y1="585.9" x2="433.68" y2="673.6" stroke="#303030" stroke-width="1.3"/><line x1="191.1" y1="671.4" x2="194.4" y2="671.4" stroke="#303030" stroke-width="1"/><text x="188.6" y="674.3" font-size="8.3" fill="#fbfbfc" text-anchor="end" stroke="#fbfbfc" stroke-width="2.2" stroke-linejoin="round" paint-order="stroke">0</text><text x="188.6" y="674.3" font-size="8.3" fill="#2a2a2a" stroke="#2a2a2a" stroke-width="0.22" text-anchor="end">0</text><line x1="191.1" y1="629.95" x2="194.4" y2="629.95" stroke="#303030" stroke-width="1"/><text x="188.6" y="632.85" font-size="8.3" fill="#fbfbfc" text-anchor="end" stroke="#fbfbfc" stroke-width="2.2" stroke-linejoin="round" paint-order="stroke">10</text><text x="188.6" y="632.85" font-size="8.3" fill="#2a2a2a" stroke="#2a2a2a" stroke-width="0.22" text-anchor="end">10</text><line x1="191.1" y1="588.5" x2="194.4" y2="588.5" stroke="#303030" stroke-width="1"/><text x="188.6" y="591.4" font-size="8.3" fill="#fbfbfc" text-anchor="end" stroke="#fbfbfc" stroke-width="2.2" stroke-linejoin="round" paint-order="stroke">20</text><text x="188.6" y="591.4" font-size="8.3" fill="#2a2a2a" stroke="#2a2a2a" stroke-width="0.22" text-anchor="end">20</text><text x="7" y="359.2" font-size="12.4" font-weight="bold" fill="#111" textLength="8.4" lengthAdjust="spacingAndGlyphs">B</text>
<rect x="0.5" y="0.5" width="519" height="682" fill="none" stroke="#505050" stroke-width="1.1"/>
</svg>
</body></html>
